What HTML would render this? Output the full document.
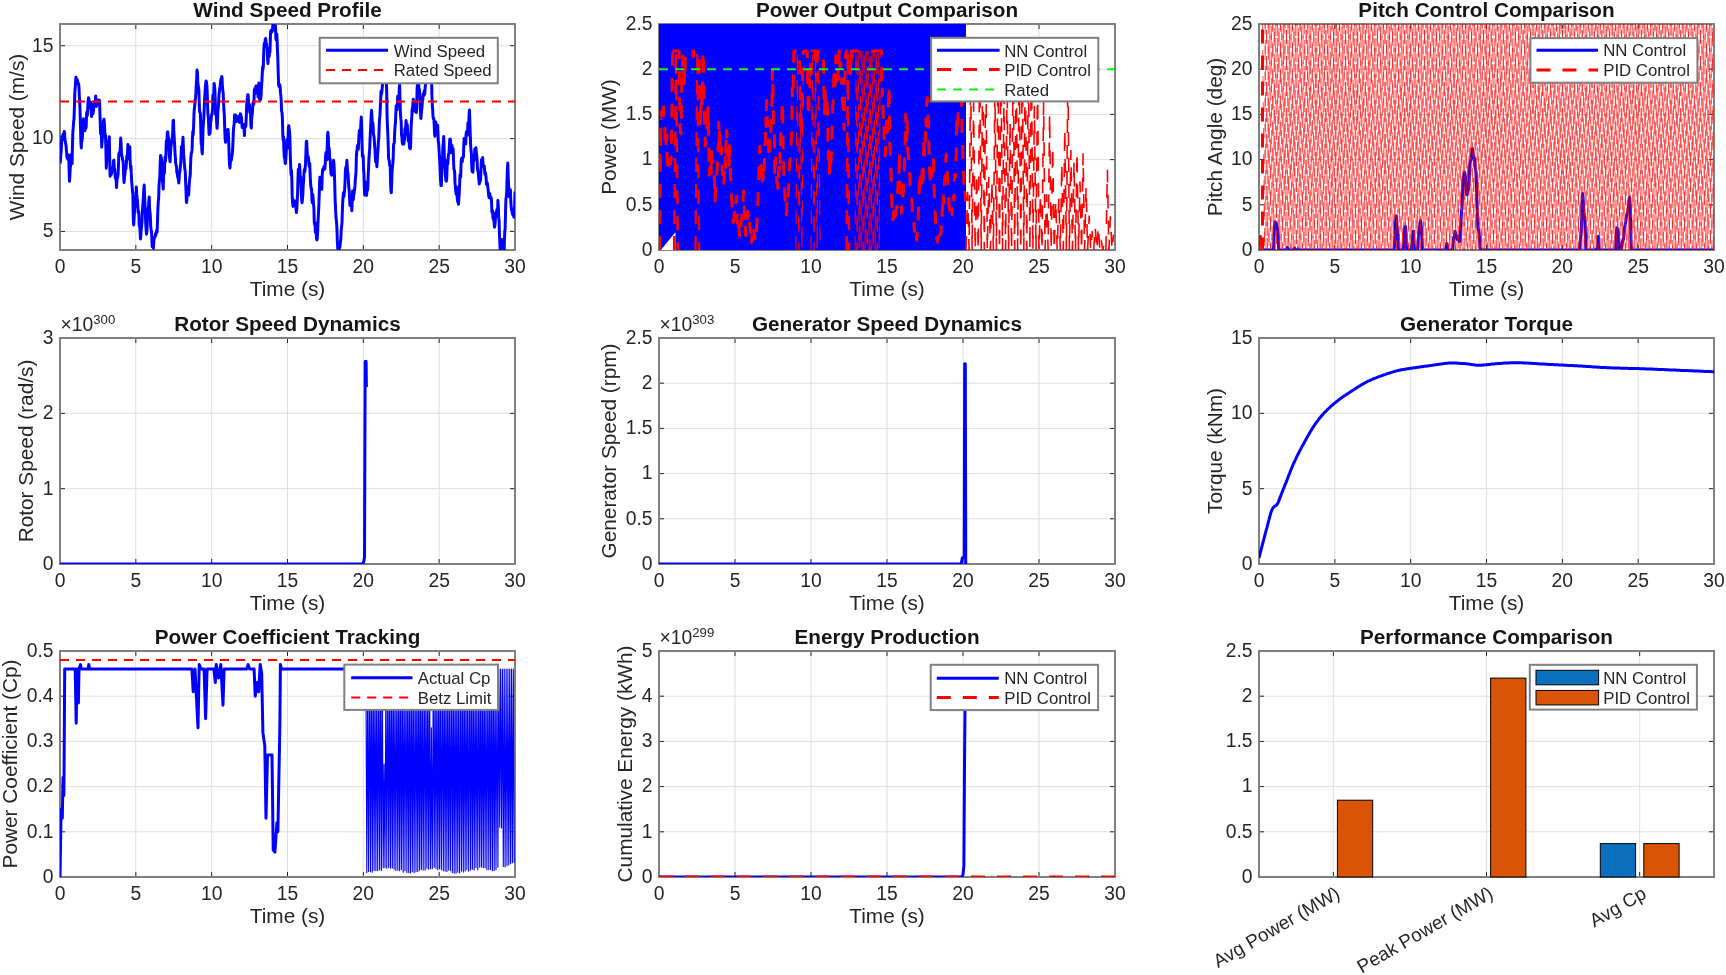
<!DOCTYPE html>
<html><head><meta charset="utf-8"><style>
html,body{margin:0;padding:0;background:#fff;width:1726px;height:975px;overflow:hidden}
svg{display:block;will-change:transform;font-family:"Liberation Sans", sans-serif;fill:#262626}
text{fill:#262626}
</style></head><body>
<svg width="1726" height="975" viewBox="0 0 1726 975">
<defs><clipPath id="clip00"><rect x="60.00" y="24.00" width="455.00" height="226.00"/></clipPath></defs>
<path d="M135.8 24.0V250.0M211.7 24.0V250.0M287.5 24.0V250.0M363.3 24.0V250.0M439.2 24.0V250.0M60.0 231.4H515.0M60.0 138.6H515.0M60.0 45.7H515.0" stroke="#dfdfdf" stroke-width="1" fill="none"/>
<path d="M135.83 250.0V245.0M135.83 24.0V29.0M211.67 250.0V245.0M211.67 24.0V29.0M287.50 250.0V245.0M287.50 24.0V29.0M363.33 250.0V245.0M363.33 24.0V29.0M439.17 250.0V245.0M439.17 24.0V29.0M60.0 231.43H65.0M515.0 231.43H510.0M60.0 138.58H65.0M515.0 138.58H510.0M60.0 45.73H65.0M515.0 45.73H510.0" stroke="#262626" stroke-width="1" fill="none"/>
<rect x="60.00" y="24.00" width="455.00" height="226.00" fill="none" stroke="#808080" stroke-width="2"/>
<path clip-path="url(#clip00)" d="M60.0 163.5L60.4 161.1L60.8 153.6L61.1 153.0L61.5 143.6L61.9 136.6L62.3 140.0L62.7 138.3L63.0 134.1L63.4 133.8L63.8 133.6L64.2 131.5L64.6 132.7L64.9 139.1L65.3 142.2L65.7 143.8L66.1 146.1L66.5 151.7L66.8 156.3L67.2 158.2L67.6 157.5L68.0 159.5L68.3 157.3L68.7 155.0L69.1 170.0L69.5 181.3L69.9 175.0L70.2 168.6L70.6 165.8L71.0 162.2L71.4 154.5L71.8 157.2L72.1 163.6L72.5 144.1L72.9 131.4L73.3 126.6L73.7 121.1L74.0 119.3L74.4 107.8L74.8 92.8L75.2 88.0L75.6 81.3L75.9 77.2L76.3 79.6L76.7 81.1L77.1 79.2L77.5 80.2L77.8 83.6L78.2 84.3L78.6 83.5L79.0 88.2L79.4 97.6L79.7 100.5L80.1 113.4L80.5 126.8L80.9 142.6L81.3 147.9L81.6 139.3L82.0 141.1L82.4 136.8L82.8 127.3L83.1 120.2L83.5 118.8L83.9 126.6L84.3 126.2L84.7 127.5L85.0 130.7L85.4 125.7L85.8 128.4L86.2 126.6L86.6 113.8L86.9 112.1L87.3 115.3L87.7 108.5L88.1 101.6L88.5 97.7L88.8 98.3L89.2 107.1L89.6 107.3L90.0 105.0L90.4 103.2L90.7 102.2L91.1 111.0L91.5 116.6L91.9 109.5L92.3 104.4L92.6 110.4L93.0 113.7L93.4 111.0L93.8 107.1L94.2 103.4L94.5 101.8L94.9 102.6L95.3 101.9L95.7 95.9L96.1 102.0L96.4 106.5L96.8 99.7L97.2 104.5L97.6 104.1L97.9 102.2L98.3 101.1L98.7 100.0L99.1 101.2L99.5 100.3L99.8 107.8L100.2 121.1L100.6 133.8L101.0 131.8L101.4 133.8L101.7 147.2L102.1 141.6L102.5 135.2L102.9 128.1L103.3 122.6L103.6 120.5L104.0 119.2L104.4 124.1L104.8 131.5L105.2 137.3L105.5 135.4L105.9 148.9L106.3 168.2L106.7 161.0L107.1 141.7L107.4 144.0L107.8 153.3L108.2 145.1L108.6 140.7L109.0 141.3L109.3 136.7L109.7 158.8L110.1 176.2L110.5 175.2L110.9 172.7L111.2 174.5L111.6 173.2L112.0 171.7L112.4 168.8L112.7 167.6L113.1 169.3L113.5 160.6L113.9 160.1L114.3 167.9L114.6 168.9L115.0 173.0L115.4 178.3L115.8 178.4L116.2 179.6L116.5 187.6L116.9 181.9L117.3 175.6L117.7 177.3L118.1 173.8L118.4 167.2L118.8 154.5L119.2 152.6L119.6 152.9L120.0 151.6L120.3 147.6L120.7 138.1L121.1 143.5L121.5 153.2L121.9 156.3L122.2 156.6L122.6 159.9L123.0 160.4L123.4 166.5L123.8 179.5L124.1 182.5L124.5 177.5L124.9 173.5L125.3 170.0L125.7 166.5L126.0 168.6L126.4 163.2L126.8 156.3L127.2 159.5L127.5 152.3L127.9 144.6L128.3 146.7L128.7 152.0L129.1 158.3L129.4 151.1L129.8 146.8L130.2 161.5L130.6 168.5L131.0 166.1L131.3 173.9L131.7 181.7L132.1 186.3L132.5 191.0L132.9 194.5L133.2 215.4L133.6 224.9L134.0 218.9L134.4 213.1L134.8 204.9L135.1 204.4L135.5 206.1L135.9 199.5L136.3 187.1L136.7 194.2L137.0 197.2L137.4 200.3L137.8 206.1L138.2 212.7L138.6 211.1L138.9 214.7L139.3 226.3L139.7 226.1L140.1 231.9L140.5 238.9L140.8 235.4L141.2 229.6L141.6 226.2L142.0 221.8L142.3 213.2L142.7 207.4L143.1 201.2L143.5 195.6L143.9 187.9L144.2 185.1L144.6 196.0L145.0 205.2L145.4 214.5L145.8 224.5L146.1 229.2L146.5 234.2L146.9 232.3L147.3 221.4L147.7 211.6L148.0 208.1L148.4 210.0L148.8 201.3L149.2 196.9L149.6 208.3L149.9 212.0L150.3 215.1L150.7 226.7L151.1 229.5L151.5 231.8L151.8 236.8L152.2 246.8L152.6 243.0L153.0 238.6L153.4 248.3L153.7 243.1L154.1 238.1L154.5 237.8L154.9 236.6L155.3 236.6L155.6 233.5L156.0 234.5L156.4 231.9L156.8 229.8L157.1 232.1L157.5 221.8L157.9 209.0L158.3 201.5L158.7 197.2L159.0 186.0L159.4 180.4L159.8 177.2L160.2 162.8L160.6 155.4L160.9 156.0L161.3 158.0L161.7 161.4L162.1 170.4L162.5 181.5L162.8 183.6L163.2 189.1L163.6 175.6L164.0 165.4L164.4 173.3L164.7 163.8L165.1 157.0L165.5 161.1L165.9 154.5L166.3 141.4L166.6 140.4L167.0 139.6L167.4 132.1L167.8 131.8L168.2 136.6L168.5 137.6L168.9 145.9L169.3 155.7L169.7 158.9L170.1 161.8L170.4 155.4L170.8 148.2L171.2 145.1L171.6 141.3L171.9 139.1L172.3 138.3L172.7 133.1L173.1 120.9L173.5 120.3L173.8 131.2L174.2 137.7L174.6 144.3L175.0 153.0L175.4 158.0L175.7 163.6L176.1 165.2L176.5 166.7L176.9 172.8L177.3 172.2L177.6 176.7L178.0 177.6L178.4 179.5L178.8 182.9L179.2 178.2L179.5 172.0L179.9 171.5L180.3 167.3L180.7 164.3L181.1 155.7L181.4 146.7L181.8 149.4L182.2 148.2L182.6 143.5L183.0 137.3L183.3 145.3L183.7 154.9L184.1 159.3L184.5 165.3L184.8 168.9L185.2 170.8L185.6 181.1L186.0 190.5L186.4 202.2L186.7 202.4L187.1 195.8L187.5 194.0L187.9 186.4L188.3 193.1L188.6 195.1L189.0 188.2L189.4 182.0L189.8 177.7L190.2 176.2L190.5 166.2L190.9 157.5L191.3 152.9L191.7 152.4L192.1 149.4L192.4 138.9L192.8 131.7L193.2 134.7L193.6 126.6L194.0 114.4L194.3 108.9L194.7 106.0L195.1 100.7L195.5 97.7L195.9 93.2L196.2 86.0L196.6 80.3L197.0 70.0L197.4 72.6L197.8 81.9L198.1 85.3L198.5 87.2L198.9 90.9L199.3 104.6L199.6 111.6L200.0 112.2L200.4 113.8L200.8 128.6L201.2 144.2L201.5 141.4L201.9 151.0L202.3 153.7L202.7 140.8L203.1 126.8L203.4 123.8L203.8 118.6L204.2 109.2L204.6 99.2L205.0 92.8L205.3 87.7L205.7 83.9L206.1 80.9L206.5 82.3L206.9 86.3L207.2 92.3L207.6 106.7L208.0 114.7L208.4 118.0L208.8 128.8L209.1 134.5L209.5 131.9L209.9 133.7L210.3 129.5L210.7 120.3L211.0 120.9L211.4 116.2L211.8 113.9L212.2 114.2L212.6 107.4L212.9 95.2L213.3 94.9L213.7 95.7L214.1 83.5L214.4 84.9L214.8 89.0L215.2 98.4L215.6 114.5L216.0 113.6L216.3 115.0L216.7 123.4L217.1 128.3L217.5 122.6L217.9 109.8L218.2 109.3L218.6 103.0L219.0 94.1L219.4 91.3L219.8 87.7L220.1 86.2L220.5 82.7L220.9 79.2L221.3 80.6L221.7 76.6L222.0 77.1L222.4 86.5L222.8 90.2L223.2 93.4L223.6 103.5L223.9 109.7L224.3 114.6L224.7 128.0L225.1 137.8L225.5 142.3L225.8 137.1L226.2 139.4L226.6 140.0L227.0 135.0L227.4 130.3L227.7 129.4L228.1 129.4L228.5 136.9L228.9 146.9L229.2 157.8L229.6 165.5L230.0 168.0L230.4 161.6L230.8 157.2L231.1 160.7L231.5 159.2L231.9 155.6L232.3 153.9L232.7 148.6L233.0 141.1L233.4 130.3L233.8 126.4L234.2 123.7L234.6 115.1L234.9 118.4L235.3 118.1L235.7 115.1L236.1 120.9L236.5 121.5L236.8 119.2L237.2 119.9L237.6 120.2L238.0 118.7L238.4 116.4L238.7 119.4L239.1 120.5L239.5 122.3L239.9 121.1L240.3 113.8L240.6 113.9L241.0 116.2L241.4 117.2L241.8 122.6L242.2 127.6L242.5 126.1L242.9 124.4L243.3 127.1L243.7 124.4L244.0 128.3L244.4 135.6L244.8 126.2L245.2 125.0L245.6 126.8L245.9 125.3L246.3 117.1L246.7 104.7L247.1 99.4L247.5 97.5L247.8 94.7L248.2 95.0L248.6 103.9L249.0 108.1L249.4 104.2L249.7 112.5L250.1 108.7L250.5 111.9L250.9 125.6L251.3 128.1L251.6 119.9L252.0 115.2L252.4 112.9L252.8 104.5L253.2 102.1L253.5 104.6L253.9 103.8L254.3 90.4L254.7 88.9L255.1 93.5L255.4 90.7L255.8 86.3L256.2 85.9L256.6 87.0L257.0 92.2L257.3 92.4L257.7 88.0L258.1 97.1L258.5 94.9L258.8 83.1L259.2 91.5L259.6 99.7L260.0 90.7L260.4 92.0L260.7 99.4L261.1 95.2L261.5 86.9L261.9 80.9L262.3 73.5L262.6 67.1L263.0 69.5L263.4 64.7L263.8 50.5L264.2 44.4L264.5 43.2L264.9 42.9L265.3 38.9L265.7 38.4L266.1 42.9L266.4 43.8L266.8 46.3L267.2 48.2L267.6 59.1L268.0 63.5L268.3 53.0L268.7 54.0L269.1 56.7L269.5 52.5L269.9 52.5L270.2 43.9L270.6 32.2L271.0 30.4L271.4 31.5L271.8 32.0L272.1 29.6L272.5 29.5L272.9 25.1L273.3 18.6L273.6 19.7L274.0 26.1L274.4 30.1L274.8 30.1L275.2 25.8L275.5 25.8L275.9 39.0L276.3 39.9L276.7 33.8L277.1 39.1L277.4 48.6L277.8 56.9L278.2 72.3L278.6 84.4L279.0 86.4L279.3 85.2L279.7 84.5L280.1 86.3L280.5 92.7L280.9 96.2L281.2 100.8L281.6 111.1L282.0 112.4L282.4 118.1L282.8 134.6L283.1 140.1L283.5 136.8L283.9 149.7L284.3 157.5L284.7 154.9L285.0 162.2L285.4 163.6L285.8 158.1L286.2 152.8L286.6 144.9L286.9 139.5L287.3 146.4L287.7 148.1L288.1 138.4L288.4 127.1L288.8 125.8L289.2 129.6L289.6 132.2L290.0 140.7L290.3 155.1L290.7 166.9L291.1 175.0L291.5 170.6L291.9 181.0L292.2 195.4L292.6 202.7L293.0 206.4L293.4 199.9L293.8 202.2L294.1 203.7L294.5 201.6L294.9 203.5L295.3 201.3L295.7 201.2L296.0 208.8L296.4 212.6L296.8 209.3L297.2 200.5L297.6 193.7L297.9 181.4L298.3 169.3L298.7 173.8L299.1 175.8L299.5 164.6L299.8 166.0L300.2 179.4L300.6 176.5L301.0 184.4L301.4 195.5L301.7 200.0L302.1 202.7L302.5 198.4L302.9 193.2L303.2 185.6L303.6 180.7L304.0 173.0L304.4 169.4L304.8 171.6L305.1 168.9L305.5 163.4L305.9 153.4L306.3 141.4L306.7 141.2L307.0 148.6L307.4 154.7L307.8 156.6L308.2 156.5L308.6 158.7L308.9 164.1L309.3 166.8L309.7 163.2L310.1 173.2L310.5 181.8L310.8 186.0L311.2 189.1L311.6 189.1L312.0 200.9L312.4 202.6L312.7 194.4L313.1 198.2L313.5 204.0L313.9 208.2L314.3 222.7L314.6 224.5L315.0 222.5L315.4 232.5L315.8 232.2L316.2 230.2L316.5 238.1L316.9 239.9L317.3 237.9L317.7 230.4L318.0 222.3L318.4 214.4L318.8 206.7L319.2 195.3L319.6 182.7L319.9 177.2L320.3 179.6L320.7 184.6L321.1 178.0L321.5 184.3L321.8 189.3L322.2 175.9L322.6 169.7L323.0 168.7L323.4 170.1L323.7 168.5L324.1 166.4L324.5 169.3L324.9 168.9L325.3 162.8L325.6 155.7L326.0 152.5L326.4 158.8L326.8 159.8L327.2 146.5L327.5 135.6L327.9 132.3L328.3 136.9L328.7 150.0L329.1 148.0L329.4 151.5L329.8 160.0L330.2 158.8L330.6 167.7L331.0 174.0L331.3 173.9L331.7 175.2L332.1 174.2L332.5 169.9L332.8 168.4L333.2 164.7L333.6 160.3L334.0 164.0L334.4 173.3L334.7 183.5L335.1 198.7L335.5 207.0L335.9 216.2L336.3 219.9L336.6 222.6L337.0 230.5L337.4 242.5L337.8 248.7L338.2 249.6L338.5 253.3L338.9 249.1L339.3 243.7L339.7 247.8L340.1 245.0L340.4 241.9L340.8 239.3L341.2 230.5L341.6 226.5L342.0 222.8L342.3 212.8L342.7 202.3L343.1 196.4L343.5 192.7L343.9 196.6L344.2 194.1L344.6 189.7L345.0 182.8L345.4 170.9L345.8 167.2L346.1 169.0L346.5 167.1L346.9 160.3L347.3 167.5L347.6 172.9L348.0 172.8L348.4 180.3L348.8 187.5L349.2 190.4L349.5 196.9L349.9 205.4L350.3 205.4L350.7 205.5L351.1 200.2L351.4 201.8L351.8 210.7L352.2 202.2L352.6 191.0L353.0 194.1L353.3 199.7L353.7 195.1L354.1 193.6L354.5 189.9L354.9 186.7L355.2 181.7L355.6 176.9L356.0 172.2L356.4 155.7L356.8 151.2L357.1 149.0L357.5 145.6L357.9 148.6L358.3 149.3L358.7 141.0L359.0 134.3L359.4 130.4L359.8 132.0L360.2 136.0L360.6 129.9L360.9 122.5L361.3 117.1L361.7 130.3L362.1 146.4L362.4 156.4L362.8 154.9L363.2 156.1L363.6 169.0L364.0 175.4L364.3 187.1L364.7 195.1L365.1 186.3L365.5 182.0L365.9 187.1L366.2 194.2L366.6 195.4L367.0 188.9L367.4 190.4L367.8 188.3L368.1 177.9L368.5 169.0L368.9 159.7L369.3 153.6L369.7 148.7L370.0 140.5L370.4 131.8L370.8 124.4L371.2 114.8L371.6 110.3L371.9 116.1L372.3 123.5L372.7 122.3L373.1 126.1L373.5 134.6L373.8 135.4L374.2 138.1L374.6 145.0L375.0 149.6L375.4 158.3L375.7 161.9L376.1 158.0L376.5 162.0L376.9 166.7L377.2 162.0L377.6 154.2L378.0 150.2L378.4 141.2L378.8 138.7L379.1 129.1L379.5 119.8L379.9 115.9L380.3 107.6L380.7 99.6L381.0 91.6L381.4 94.5L381.8 92.1L382.2 88.0L382.6 83.4L382.9 67.9L383.3 57.3L383.7 50.5L384.1 59.7L384.5 67.9L384.8 71.4L385.2 73.3L385.6 73.5L386.0 83.8L386.4 81.7L386.7 92.0L387.1 117.5L387.5 127.5L387.9 135.8L388.3 147.9L388.6 158.8L389.0 160.0L389.4 161.8L389.8 165.8L390.2 165.6L390.5 178.9L390.9 190.7L391.3 192.7L391.7 182.7L392.0 173.2L392.4 167.1L392.8 163.9L393.2 157.4L393.6 144.1L393.9 143.8L394.3 143.0L394.7 131.8L395.1 125.6L395.5 122.1L395.8 113.2L396.2 105.7L396.6 105.9L397.0 109.8L397.4 102.5L397.7 96.2L398.1 102.6L398.5 102.1L398.9 99.1L399.3 88.4L399.6 84.8L400.0 98.6L400.4 113.3L400.8 118.2L401.2 121.8L401.5 134.9L401.9 136.6L402.3 142.8L402.7 144.1L403.1 135.6L403.4 142.0L403.8 144.1L404.2 141.3L404.6 139.0L404.9 128.8L405.3 131.0L405.7 126.0L406.1 120.5L406.5 128.1L406.8 127.4L407.2 124.4L407.6 131.8L408.0 137.8L408.4 141.2L408.7 140.6L409.1 139.1L409.5 147.7L409.9 148.3L410.3 148.7L410.6 146.6L411.0 129.7L411.4 122.1L411.8 116.9L412.2 109.1L412.5 109.1L412.9 103.8L413.3 99.2L413.7 101.0L414.1 105.2L414.4 107.8L414.8 111.2L415.2 109.6L415.6 104.9L416.0 104.1L416.3 112.6L416.7 108.1L417.1 89.2L417.5 83.3L417.9 86.1L418.2 82.2L418.6 84.3L419.0 88.0L419.4 90.1L419.7 93.0L420.1 99.6L420.5 112.7L420.9 118.5L421.3 114.0L421.6 110.6L422.0 107.0L422.4 100.4L422.8 99.9L423.2 93.9L423.5 94.7L423.9 95.3L424.3 91.1L424.7 94.2L425.1 88.2L425.4 85.2L425.8 81.8L426.2 81.1L426.6 81.2L427.0 77.7L427.3 76.0L427.7 72.4L428.1 74.4L428.5 70.3L428.9 69.8L429.2 74.3L429.6 66.5L430.0 59.4L430.4 59.3L430.8 60.5L431.1 59.1L431.5 74.7L431.9 95.0L432.3 104.8L432.7 109.9L433.0 116.2L433.4 118.9L433.8 118.4L434.2 124.5L434.5 132.0L434.9 136.3L435.3 128.1L435.7 122.0L436.1 125.4L436.4 127.8L436.8 128.5L437.2 126.6L437.6 125.2L438.0 134.4L438.3 141.9L438.7 143.6L439.1 150.8L439.5 157.2L439.9 163.7L440.2 172.7L440.6 181.2L441.0 185.6L441.4 185.5L441.8 165.3L442.1 159.4L442.5 159.6L442.9 147.1L443.3 142.8L443.7 136.5L444.0 143.6L444.4 159.7L444.8 167.0L445.2 173.7L445.6 177.0L445.9 180.2L446.3 181.2L446.7 179.1L447.1 167.5L447.5 160.0L447.8 163.9L448.2 157.7L448.6 153.9L449.0 153.0L449.3 147.5L449.7 139.5L450.1 139.0L450.5 140.3L450.9 145.8L451.2 152.8L451.6 145.8L452.0 145.5L452.4 151.9L452.8 150.1L453.1 148.6L453.5 159.2L453.9 169.1L454.3 169.9L454.7 173.1L455.0 183.3L455.4 186.4L455.8 191.8L456.2 194.2L456.6 186.9L456.9 189.7L457.3 199.1L457.7 201.7L458.1 202.0L458.5 204.2L458.8 199.7L459.2 193.6L459.6 185.0L460.0 174.7L460.4 177.2L460.7 176.7L461.1 162.9L461.5 158.6L461.9 158.0L462.3 161.7L462.6 158.3L463.0 156.7L463.4 157.3L463.8 145.9L464.1 138.5L464.5 139.4L464.9 140.8L465.3 142.0L465.7 143.9L466.0 135.7L466.4 131.7L466.8 133.4L467.2 135.5L467.6 132.1L467.9 123.0L468.3 123.6L468.7 124.8L469.1 114.7L469.5 110.0L469.8 119.6L470.2 133.4L470.6 144.1L471.0 150.8L471.4 153.9L471.7 164.7L472.1 171.5L472.5 168.9L472.9 172.2L473.3 162.8L473.6 158.8L474.0 160.6L474.4 156.6L474.8 148.9L475.2 150.4L475.5 149.0L475.9 147.7L476.3 152.9L476.7 154.8L477.1 159.9L477.4 168.2L477.8 170.8L478.2 171.9L478.6 177.4L478.9 179.5L479.3 184.0L479.7 181.9L480.1 178.9L480.5 180.8L480.8 174.0L481.2 164.0L481.6 159.4L482.0 164.6L482.4 160.4L482.7 157.6L483.1 166.5L483.5 166.4L483.9 165.7L484.3 166.1L484.6 170.3L485.0 174.3L485.4 172.5L485.8 175.0L486.2 179.2L486.5 184.5L486.9 183.5L487.3 182.9L487.7 186.0L488.1 189.3L488.4 192.5L488.8 196.4L489.2 197.8L489.6 193.6L490.0 195.2L490.3 196.5L490.7 197.5L491.1 197.5L491.5 200.8L491.9 212.2L492.2 212.3L492.6 210.7L493.0 218.5L493.4 219.0L493.7 218.2L494.1 222.1L494.5 227.2L494.9 225.5L495.3 220.7L495.6 212.8L496.0 213.0L496.4 216.0L496.8 209.7L497.2 212.5L497.5 216.0L497.9 200.6L498.3 205.5L498.7 217.4L499.1 221.1L499.4 232.1L499.8 242.5L500.2 249.6L500.6 245.0L501.0 247.2L501.3 248.4L501.7 243.5L502.1 239.5L502.5 242.7L502.9 245.7L503.2 241.9L503.6 247.5L504.0 254.8L504.4 240.5L504.8 231.1L505.1 229.0L505.5 213.2L505.9 199.6L506.3 196.7L506.7 192.0L507.0 181.6L507.4 169.1L507.8 163.1L508.2 176.0L508.5 184.2L508.9 190.7L509.3 196.7L509.7 194.1L510.1 190.8L510.4 189.7L510.8 201.7L511.2 207.0L511.6 209.9L512.0 211.0L512.3 212.9L512.7 214.8L513.1 212.6L513.5 215.8L513.9 217.1L514.2 217.0L514.6 207.8L515.0 191.5" stroke="#0000ff" stroke-width="3.00" stroke-dasharray="none" fill="none" stroke-linejoin="round" />
<path clip-path="url(#clip00)" d="M60.0 101.4L515.0 101.4" stroke="#ff0000" stroke-width="2.00" stroke-dasharray="9 7" fill="none" stroke-linejoin="round" />
<rect x="319.7" y="37.8" width="178.1" height="45.5" fill="#fff" stroke="#808080" stroke-width="2"/>
<path d="M326.0 50.3H388.0" stroke="#0000ff" stroke-width="3.0" stroke-dasharray="none" fill="none"/>
<text x="393.7" y="56.5" font-size="16.80">Wind Speed</text>
<path d="M326.0 70.0H388.0" stroke="#ff0000" stroke-width="2.0" stroke-dasharray="9 7" fill="none"/>
<text x="393.7" y="76.2" font-size="16.80">Rated Speed</text>
<text x="60.0" y="273.3" text-anchor="middle" font-size="19.30">0</text>
<text x="135.8" y="273.3" text-anchor="middle" font-size="19.30">5</text>
<text x="211.7" y="273.3" text-anchor="middle" font-size="19.30">10</text>
<text x="287.5" y="273.3" text-anchor="middle" font-size="19.30">15</text>
<text x="363.3" y="273.3" text-anchor="middle" font-size="19.30">20</text>
<text x="439.2" y="273.3" text-anchor="middle" font-size="19.30">25</text>
<text x="515.0" y="273.3" text-anchor="middle" font-size="19.30">30</text>
<text x="53.5" y="237.2" text-anchor="end" font-size="19.30">5</text>
<text x="53.5" y="144.4" text-anchor="end" font-size="19.30">10</text>
<text x="53.5" y="51.5" text-anchor="end" font-size="19.30">15</text>
<text x="287.5" y="296.2" text-anchor="middle" font-size="20.80">Time (s)</text>
<text transform="translate(23.9 137.0) rotate(-90)" text-anchor="middle" font-size="20.80">Wind Speed (m/s)</text>
<text x="287.5" y="16.8" text-anchor="middle" font-size="20.70" font-weight="bold" style="fill:#151515">Wind Speed Profile</text>
<defs><clipPath id="clip01"><rect x="659.00" y="24.00" width="456.00" height="226.00"/></clipPath></defs>
<path d="M735.0 24.0V250.0M811.0 24.0V250.0M887.0 24.0V250.0M963.0 24.0V250.0M1039.0 24.0V250.0M659.0 204.8H1115.0M659.0 159.6H1115.0M659.0 114.4H1115.0M659.0 69.2H1115.0" stroke="#dfdfdf" stroke-width="1" fill="none"/>
<path d="M735.00 250.0V245.0M735.00 24.0V29.0M811.00 250.0V245.0M811.00 24.0V29.0M887.00 250.0V245.0M887.00 24.0V29.0M963.00 250.0V245.0M963.00 24.0V29.0M1039.00 250.0V245.0M1039.00 24.0V29.0M659.0 204.80H664.0M1115.0 204.80H1110.0M659.0 159.60H664.0M1115.0 159.60H1110.0M659.0 114.40H664.0M1115.0 114.40H1110.0M659.0 69.20H664.0M1115.0 69.20H1110.0" stroke="#262626" stroke-width="1" fill="none"/>
<rect x="659.00" y="24.00" width="456.00" height="226.00" fill="none" stroke="#808080" stroke-width="2"/>
<path clip-path="url(#clip01)" d="M659.0 24.0H966.0V250.0H659.0Z" fill="#0000ff"/>
<path d="M660.8 250L675.5 232.3V250Z" fill="#fff"/>
<path clip-path="url(#clip01)" d="M659.0 166.1L659.5 166.7L659.9 144.8L660.4 141.3L660.8 130.9L661.3 111.5L661.7 116.4L662.2 114.6L662.6 103.1L663.1 109.2L663.6 106.8L664.0 115.1L664.5 114.9L664.9 130.3L665.4 149.0L665.8 145.7L666.3 141.8L666.8 135.3L667.2 164.4L667.7 156.9L668.1 165.3L668.6 160.9L669.0 165.2L669.5 154.2L669.9 158.6L670.4 163.7L670.9 160.6L671.3 144.2L671.8 122.2L672.2 74.1L672.7 53.0L673.1 58.8L673.6 51.1L674.0 51.1L674.5 51.1L675.0 51.1L675.4 51.1L675.9 51.1L676.3 51.1L676.8 51.1L677.2 51.1L677.7 51.1L678.2 51.1L678.6 51.1L679.1 51.1L679.5 85.6L680.0 127.4L680.4 130.5L680.9 134.0L681.3 115.6L681.8 79.3L682.3 78.9L682.7 55.9L683.2 58.2L683.6 88.1L684.1 90.8L684.5 65.9L685.0 72.0L685.4 51.1L685.9 51.1L686.4 51.1L686.8 51.1L687.3 51.1L687.7 51.1L688.2 51.1L688.6 51.1L689.1 51.1L689.6 51.1L690.0 51.1L690.5 51.1L690.9 51.1L691.4 51.1L691.8 51.1L692.3 51.1L692.7 51.1L693.2 56.7L693.7 51.1L694.1 51.1L694.6 51.1L695.0 51.1L695.5 51.1L695.9 51.1L696.4 51.1L696.8 51.1L697.3 51.1L697.8 51.1L698.2 51.1L698.7 51.1L699.1 51.1L699.6 85.8L700.0 97.3L700.5 126.4L701.0 106.4L701.4 103.2L701.9 90.1L702.3 106.0L702.8 59.4L703.2 51.1L703.7 71.5L704.1 95.7L704.6 121.2L705.1 139.8L705.5 145.9L706.0 141.1L706.4 135.4L706.9 133.3L707.3 105.8L707.8 126.7L708.2 107.4L708.7 138.8L709.2 175.2L709.6 169.1L710.1 167.0L710.5 167.2L711.0 178.9L711.4 149.4L711.9 158.3L712.4 159.5L712.8 161.1L713.3 169.3L713.7 169.2L714.2 175.2L714.6 184.5L715.1 201.3L715.5 191.5L716.0 185.3L716.5 177.5L716.9 174.3L717.4 161.4L717.8 147.5L718.3 150.4L718.7 122.6L719.2 143.4L719.6 126.6L720.1 134.5L720.6 157.8L721.0 155.8L721.5 147.2L721.9 157.1L722.4 174.4L722.8 171.5L723.3 184.8L723.8 184.1L724.2 173.6L724.7 170.2L725.1 157.3L725.6 167.8L726.0 140.9L726.5 146.2L726.9 130.6L727.4 155.0L727.9 149.3L728.3 148.6L728.8 145.1L729.2 165.4L729.7 145.7L730.1 158.8L730.6 177.3L731.0 179.7L731.5 198.8L732.0 204.1L732.4 208.6L732.9 220.0L733.3 222.5L733.8 219.9L734.2 213.5L734.7 212.1L735.2 214.3L735.6 211.0L736.1 201.7L736.5 195.9L737.0 223.2L737.4 215.0L737.9 223.1L738.3 223.7L738.8 227.3L739.3 232.9L739.7 238.1L740.2 235.9L740.6 233.7L741.1 219.8L741.5 220.0L742.0 215.8L742.4 208.6L742.9 207.0L743.4 190.9L743.8 196.9L744.3 208.3L744.7 226.8L745.2 224.0L745.6 235.8L746.1 234.9L746.6 229.0L747.0 223.2L747.5 213.5L747.9 211.3L748.4 215.1L748.8 215.7L749.3 212.3L749.7 227.2L750.2 227.9L750.7 232.9L751.1 229.6L751.6 242.4L752.0 236.3L752.5 240.4L752.9 238.6L753.4 236.9L753.8 227.6L754.3 237.0L754.8 238.7L755.2 230.4L755.7 235.1L756.1 232.9L756.6 227.9L757.0 220.1L757.5 212.3L758.0 199.6L758.4 186.4L758.9 168.6L759.3 161.8L759.8 146.6L760.2 152.0L760.7 151.6L761.1 168.9L761.6 175.9L762.1 186.3L762.5 177.4L763.0 179.5L763.4 167.7L763.9 173.3L764.3 164.1L764.8 148.7L765.2 146.6L765.7 118.3L766.2 126.7L766.6 100.5L767.1 122.7L767.5 121.2L768.0 125.4L768.4 135.9L768.9 158.9L769.4 153.4L769.8 137.5L770.3 131.4L770.7 134.3L771.2 124.3L771.6 120.5L772.1 90.7L772.5 69.4L773.0 91.9L773.5 123.1L773.9 122.2L774.4 134.4L774.8 175.9L775.3 168.5L775.7 158.0L776.2 172.7L776.6 178.9L777.1 184.0L777.6 183.9L778.0 190.0L778.5 183.2L778.9 167.8L779.4 168.5L779.8 153.5L780.3 162.6L780.8 131.7L781.2 121.2L781.7 119.2L782.1 107.7L782.6 101.9L783.0 146.1L783.5 159.9L783.9 175.0L784.4 183.0L784.9 197.5L785.3 201.8L785.8 213.8L786.2 214.6L786.7 212.5L787.1 196.0L787.6 199.7L788.0 197.3L788.5 189.8L789.0 182.4L789.4 167.8L789.9 159.4L790.3 158.2L790.8 149.6L791.2 140.7L791.7 130.3L792.2 88.3L792.6 98.8L793.1 95.6L793.5 65.4L794.0 51.1L794.4 51.1L794.9 51.1L795.3 51.1L795.8 51.1L796.3 51.1L796.7 51.1L797.2 51.1L797.6 51.1L798.1 51.1L798.5 51.1L799.0 51.1L799.4 51.1L799.9 78.0L800.4 92.7L800.8 125.8L801.3 135.5L801.7 117.4L802.2 111.5L802.6 78.3L803.1 52.7L803.6 51.1L804.0 51.1L804.5 51.1L804.9 51.1L805.4 51.1L805.8 51.1L806.3 51.1L806.7 51.1L807.2 51.8L807.7 77.3L808.1 106.5L808.6 116.6L809.0 102.5L809.5 79.7L809.9 88.6L810.4 73.5L810.8 51.1L811.3 51.1L811.8 51.1L812.2 51.1L812.7 51.1L813.1 51.1L813.6 51.1L814.0 51.1L814.5 51.1L815.0 51.1L815.4 51.1L815.9 68.2L816.3 70.7L816.8 80.8L817.2 58.6L817.7 51.1L818.1 51.1L818.6 51.1L819.1 51.1L819.5 51.1L820.0 51.1L820.4 51.1L820.9 51.1L821.3 51.1L821.8 51.1L822.2 51.1L822.7 51.1L823.2 51.1L823.6 74.9L824.1 105.2L824.5 113.6L825.0 89.7L825.4 108.5L825.9 114.9L826.4 95.9L826.8 94.9L827.3 107.2L827.7 119.9L828.2 158.7L828.6 149.1L829.1 154.7L829.5 179.1L830.0 172.8L830.5 153.2L830.9 163.0L831.4 154.1L831.8 146.1L832.3 124.8L832.7 108.0L833.2 101.3L833.6 81.5L834.1 71.9L834.6 73.3L835.0 86.1L835.5 77.2L835.9 55.6L836.4 81.2L836.8 69.5L837.3 70.6L837.8 66.7L838.2 76.7L838.7 79.0L839.1 51.1L839.6 51.1L840.0 68.4L840.5 65.0L840.9 63.3L841.4 82.9L841.9 78.7L842.3 99.6L842.8 103.3L843.2 106.7L843.7 116.8L844.1 129.8L844.6 91.0L845.0 73.2L845.5 54.5L846.0 57.0L846.4 51.1L846.9 51.1L847.3 51.1L847.8 51.1L848.2 51.1L848.7 51.1L849.2 51.1L849.6 51.1L850.1 64.7L850.5 75.9L851.0 70.4L851.4 51.1L851.9 60.7L852.3 51.1L852.8 51.1L853.3 51.1L853.7 51.1L854.2 51.1L854.6 51.1L855.1 51.1L855.5 51.1L856.0 51.1L856.4 51.1L856.9 51.1L857.4 51.1L857.8 51.1L858.3 51.1L858.7 51.1L859.2 51.1L859.6 51.1L860.1 51.1L860.6 51.1L861.0 51.1L861.5 51.1L861.9 51.1L862.4 51.1L862.8 51.1L863.3 51.1L863.7 51.1L864.2 51.1L864.7 51.1L865.1 51.1L865.6 51.1L866.0 51.1L866.5 51.1L866.9 51.1L867.4 51.1L867.8 51.1L868.3 51.1L868.8 51.1L869.2 51.1L869.7 51.1L870.1 51.1L870.6 51.1L871.0 51.1L871.5 51.1L872.0 51.1L872.4 51.1L872.9 51.1L873.3 51.1L873.8 51.1L874.2 51.1L874.7 51.1L875.1 51.1L875.6 51.1L876.1 51.1L876.5 51.1L877.0 51.1L877.4 51.1L877.9 51.1L878.3 51.1L878.8 51.1L879.2 51.1L879.7 51.1L880.2 51.1L880.6 51.1L881.1 51.1L881.5 51.1L882.0 96.0L882.4 89.0L882.9 101.1L883.4 126.1L883.8 123.8L884.3 144.5L884.7 150.9L885.2 156.1L885.6 148.7L886.1 140.6L886.5 121.6L887.0 131.9L887.5 134.2L887.9 122.7L888.4 107.9L888.8 85.5L889.3 97.5L889.7 145.2L890.2 149.2L890.6 160.8L891.1 175.4L891.6 195.8L892.0 211.1L892.5 213.4L892.9 220.0L893.4 212.6L893.8 211.4L894.3 222.9L894.8 217.0L895.2 216.7L895.7 213.8L896.1 209.8L896.6 206.5L897.0 207.3L897.5 199.2L897.9 182.4L898.4 185.6L898.9 173.4L899.3 151.3L899.8 174.6L900.2 194.3L900.7 197.4L901.1 201.2L901.6 212.9L902.0 204.4L902.5 195.5L903.0 197.5L903.4 187.7L903.9 175.0L904.3 171.7L904.8 147.3L905.2 138.5L905.7 114.3L906.2 133.0L906.6 140.4L907.1 120.0L907.5 149.6L908.0 151.7L908.4 157.2L908.9 159.7L909.3 172.7L909.8 174.6L910.3 186.4L910.7 191.5L911.2 193.7L911.6 198.1L912.1 205.2L912.5 215.4L913.0 214.6L913.4 220.4L913.9 223.7L914.4 231.5L914.8 227.3L915.3 232.3L915.7 229.8L916.2 235.0L916.6 240.5L917.1 236.9L917.6 224.1L918.0 223.8L918.5 209.1L918.9 203.6L919.4 177.1L919.8 188.1L920.3 177.0L920.7 176.2L921.2 185.9L921.7 183.2L922.1 168.8L922.6 177.1L923.0 180.8L923.5 159.7L923.9 141.0L924.4 155.5L924.8 135.5L925.3 141.5L925.8 119.0L926.2 125.8L926.7 100.6L927.1 99.5L927.6 97.7L928.0 103.8L928.5 130.8L929.0 152.6L929.4 167.0L929.9 173.5L930.3 183.7L930.8 172.7L931.2 171.0L931.7 170.4L932.1 176.0L932.6 171.1L933.1 170.7L933.5 159.5L934.0 184.7L934.4 195.8L934.9 206.8L935.3 216.4L935.8 226.8L936.2 232.9L936.7 234.5L937.2 242.2L937.6 239.2L938.1 236.4L938.5 237.6L939.0 242.6L939.4 237.7L939.9 236.3L940.4 232.9L940.8 235.0L941.3 224.5L941.7 226.2L942.2 212.2L942.6 207.2L943.1 192.6L943.5 202.7L944.0 203.0L944.5 182.2L944.9 176.3L945.4 177.6L945.8 157.1L946.3 153.9L946.7 167.1L947.2 170.1L947.6 180.0L948.1 186.4L948.6 192.7L949.0 204.6L949.5 208.6L949.9 211.2L950.4 216.9L950.8 215.3L951.3 212.9L951.8 209.3L952.2 214.6L952.7 202.3L953.1 205.2L953.6 196.2L954.0 199.4L954.5 177.9L954.9 174.4L955.4 177.1L955.9 156.7L956.3 155.0L956.8 121.5L957.2 122.6L957.7 129.9L958.1 114.8L958.6 112.1L959.0 93.2L959.5 96.7L960.0 89.0L960.4 101.3L960.9 73.4L961.3 77.9L961.8 112.7L962.2 135.5L962.7 148.4L963.2 170.1L963.6 173.9L964.1 190.7L964.5 187.8L965.0 194.2L965.4 200.2L965.9 196.2" stroke="#ff0000" stroke-width="3.00" stroke-dasharray="14 12" fill="none" stroke-linejoin="round" />
<path clip-path="url(#clip01)" d="M659.9 250.0L661.0 118.4" stroke="#ff0000" stroke-width="2.60" stroke-dasharray="14 12" fill="none" stroke-linejoin="round" />
<path clip-path="url(#clip01)" d="M674.2 250.0L676.0 51.1L677.8 250.0" stroke="#ff0000" stroke-width="2.60" stroke-dasharray="14 12" fill="none" stroke-linejoin="round" />
<path clip-path="url(#clip01)" d="M695.5 250.0L697.3 51.1L699.1 250.0" stroke="#ff0000" stroke-width="2.20" stroke-dasharray="14 12" fill="none" stroke-linejoin="round" />
<path clip-path="url(#clip01)" d="M795.8 250.0L797.3 51.1L798.8 250.0L800.4 102.5L801.9 250.0L803.4 59.1" stroke="#ff0000" stroke-width="1.20" stroke-dasharray="14 12" fill="none" stroke-linejoin="round" />
<path clip-path="url(#clip01)" d="M811.0 250.0L812.5 51.1L814.0 250.0L815.6 51.1L817.1 250.0L818.6 51.1L820.1 250.0" stroke="#ff0000" stroke-width="1.20" stroke-dasharray="14 12" fill="none" stroke-linejoin="round" />
<path clip-path="url(#clip01)" d="M846.7 250.0L847.9 51.1L849.0 250.0" stroke="#ff0000" stroke-width="2.60" stroke-dasharray="14 12" fill="none" stroke-linejoin="round" />
<path clip-path="url(#clip01)" d="M855.1 250.0L856.1 51.1L857.1 250.0L858.1 51.1L859.1 250.0L860.1 51.1L861.1 250.0L862.1 51.1L863.1 250.0L864.1 51.1L865.1 250.0L866.1 51.1L867.1 250.0L868.1 51.1L869.1 250.0L870.1 51.1L871.1 250.0L872.1 51.1L873.1 250.0L874.1 51.1L875.1 250.0L876.1 51.1L877.2 250.0L878.2 51.1L879.2 250.0L880.2 51.1" stroke="#ff0000" stroke-width="1.00" stroke-dasharray="14 12" fill="none" stroke-linejoin="round" />
<path clip-path="url(#clip01)" d="M966.0 250.0L967.6 192.5L969.1 250.0L970.6 66.3L972.1 250.0L973.6 103.1L975.2 250.0L976.7 173.9L978.2 250.0L979.7 51.1L981.2 250.0L982.8 51.1L984.3 250.0L985.8 51.1L987.3 250.0L988.8 177.6L990.4 250.0L991.9 180.6L993.4 250.0L994.9 81.6L996.4 250.0L998.0 51.1L999.5 250.0L1001.0 51.1L1002.5 250.0L1004.0 93.1L1005.6 250.0L1007.1 83.2L1008.6 250.0L1010.1 121.7L1011.6 250.0L1013.2 51.1L1014.7 250.0L1016.2 51.1L1017.7 250.0L1019.2 51.1L1020.8 250.0L1022.3 51.1L1023.8 250.0L1025.3 51.1L1026.8 250.0L1028.4 51.1L1029.9 250.0L1031.4 51.1L1032.9 250.0L1034.4 106.5L1036.0 250.0L1037.5 86.3L1039.0 250.0L1040.5 195.0L1042.0 250.0L1043.6 102.6L1045.1 250.0L1046.6 194.8L1048.1 250.0L1049.6 114.4L1051.2 250.0L1052.7 146.9L1054.2 250.0L1055.7 200.6L1057.2 250.0L1058.8 198.3L1060.3 250.0L1061.8 163.6L1063.3 250.0L1064.8 129.0L1066.4 250.0L1067.9 67.6L1069.4 250.0L1070.9 150.6L1072.4 250.0L1074.0 161.7L1075.5 250.0L1077.0 151.9L1078.5 250.0L1080.0 182.0L1081.6 250.0L1083.1 153.8L1084.6 250.0L1086.1 187.0L1087.6 250.0L1089.2 216.0L1090.7 250.0L1092.2 231.6L1093.7 250.0L1095.2 226.9L1096.8 250.0L1098.3 226.6L1099.8 250.0L1101.3 240.3L1102.8 250.0L1104.4 242.1L1105.9 250.0L1107.4 170.2L1108.9 250.0L1110.4 216.7L1112.0 250.0L1113.5 234.5" stroke="#ff0000" stroke-width="1.60" stroke-dasharray="14 12" fill="none" stroke-linejoin="round" />
<path d="M659.0 69.2H1115.0" stroke="#00ff00" stroke-width="2" stroke-dasharray="9 7" fill="none"/>
<rect x="931.1" y="37.8" width="167.2" height="63.6" fill="#fff" stroke="#808080" stroke-width="2"/>
<path d="M937.0 50.3H999.6" stroke="#0000ff" stroke-width="3.0" stroke-dasharray="none" fill="none"/>
<text x="1004.2" y="56.5" font-size="16.80">NN Control</text>
<path d="M937.0 69.6H999.6" stroke="#ff0000" stroke-width="3.0" stroke-dasharray="14 12" fill="none"/>
<text x="1004.2" y="75.8" font-size="16.80">PID Control</text>
<path d="M937.0 89.4H999.6" stroke="#00ff00" stroke-width="2.0" stroke-dasharray="9 7" fill="none"/>
<text x="1004.2" y="95.6" font-size="16.80">Rated</text>
<text x="659.0" y="273.3" text-anchor="middle" font-size="19.30">0</text>
<text x="735.0" y="273.3" text-anchor="middle" font-size="19.30">5</text>
<text x="811.0" y="273.3" text-anchor="middle" font-size="19.30">10</text>
<text x="887.0" y="273.3" text-anchor="middle" font-size="19.30">15</text>
<text x="963.0" y="273.3" text-anchor="middle" font-size="19.30">20</text>
<text x="1039.0" y="273.3" text-anchor="middle" font-size="19.30">25</text>
<text x="1115.0" y="273.3" text-anchor="middle" font-size="19.30">30</text>
<text x="652.5" y="255.8" text-anchor="end" font-size="19.30">0</text>
<text x="652.5" y="210.6" text-anchor="end" font-size="19.30">0.5</text>
<text x="652.5" y="165.4" text-anchor="end" font-size="19.30">1</text>
<text x="652.5" y="120.2" text-anchor="end" font-size="19.30">1.5</text>
<text x="652.5" y="75.0" text-anchor="end" font-size="19.30">2</text>
<text x="652.5" y="29.8" text-anchor="end" font-size="19.30">2.5</text>
<text x="887.0" y="296.2" text-anchor="middle" font-size="20.80">Time (s)</text>
<text transform="translate(616.1 137.0) rotate(-90)" text-anchor="middle" font-size="20.80">Power (MW)</text>
<text x="887.0" y="16.8" text-anchor="middle" font-size="20.70" font-weight="bold" style="fill:#151515">Power Output Comparison</text>
<defs><clipPath id="clip02"><rect x="1259.00" y="24.00" width="455.00" height="226.00"/></clipPath></defs>
<path d="M1334.8 24.0V250.0M1410.7 24.0V250.0M1486.5 24.0V250.0M1562.3 24.0V250.0M1638.2 24.0V250.0M1259.0 204.8H1714.0M1259.0 159.6H1714.0M1259.0 114.4H1714.0M1259.0 69.2H1714.0" stroke="#dfdfdf" stroke-width="1" fill="none"/>
<path d="M1334.83 250.0V245.0M1334.83 24.0V29.0M1410.67 250.0V245.0M1410.67 24.0V29.0M1486.50 250.0V245.0M1486.50 24.0V29.0M1562.33 250.0V245.0M1562.33 24.0V29.0M1638.17 250.0V245.0M1638.17 24.0V29.0M1259.0 204.80H1264.0M1714.0 204.80H1709.0M1259.0 159.60H1264.0M1714.0 159.60H1709.0M1259.0 114.40H1264.0M1714.0 114.40H1709.0M1259.0 69.20H1264.0M1714.0 69.20H1709.0" stroke="#262626" stroke-width="1" fill="none"/>
<rect x="1259.00" y="24.00" width="455.00" height="226.00" fill="none" stroke="#808080" stroke-width="2"/>
<path clip-path="url(#clip02)" d="M1259.0 250.0L1259.4 250.0L1259.8 250.0L1260.1 250.0L1260.5 250.0L1260.9 250.0L1261.3 250.0L1261.7 250.0L1262.0 250.0L1262.4 250.0L1262.8 250.0L1263.2 250.0L1263.5 250.0L1263.9 250.0L1264.3 250.0L1264.7 250.0L1265.1 250.0L1265.4 250.0L1265.8 250.0L1266.2 250.0L1266.6 250.0L1267.0 250.0L1267.3 250.0L1267.7 250.0L1268.1 250.0L1268.5 250.0L1268.9 250.0L1269.2 250.0L1269.6 250.0L1270.0 250.0L1270.4 250.0L1270.8 250.0L1271.1 250.0L1271.5 250.0L1271.9 250.0L1272.3 250.0L1272.7 250.0L1273.0 250.0L1273.4 250.0L1273.8 243.8L1274.2 232.6L1274.5 225.9L1274.9 222.2L1275.3 222.0L1275.7 222.8L1276.1 223.0L1276.4 224.1L1276.8 226.2L1277.2 227.6L1277.6 229.5L1278.0 235.0L1278.3 242.1L1278.7 250.0L1279.1 250.0L1279.5 250.0L1279.9 250.0L1280.2 250.0L1280.6 250.0L1281.0 250.0L1281.4 250.0L1281.8 250.0L1282.1 250.0L1282.5 250.0L1282.9 250.0L1283.3 250.0L1283.6 250.0L1284.0 250.0L1284.4 250.0L1284.8 250.0L1285.2 250.0L1285.5 250.0L1285.9 250.0L1286.3 250.0L1286.7 250.0L1287.1 250.0L1287.4 247.4L1287.8 249.3L1288.2 250.0L1288.6 250.0L1289.0 250.0L1289.3 250.0L1289.7 250.0L1290.1 250.0L1290.5 250.0L1290.8 250.0L1291.2 250.0L1291.6 250.0L1292.0 250.0L1292.4 250.0L1292.7 250.0L1293.1 250.0L1293.5 250.0L1293.9 250.0L1294.3 248.5L1294.6 248.1L1295.0 249.9L1295.4 250.0L1295.8 250.0L1296.2 250.0L1296.5 250.0L1296.9 250.0L1297.3 249.7L1297.7 249.2L1298.1 248.9L1298.4 250.0L1298.8 250.0L1299.2 250.0L1299.6 250.0L1300.0 250.0L1300.3 250.0L1300.7 250.0L1301.1 250.0L1301.5 250.0L1301.8 250.0L1302.2 250.0L1302.6 250.0L1303.0 250.0L1303.4 250.0L1303.7 250.0L1304.1 250.0L1304.5 250.0L1304.9 250.0L1305.3 250.0L1305.6 250.0L1306.0 250.0L1306.4 250.0L1306.8 250.0L1307.2 250.0L1307.5 250.0L1307.9 250.0L1308.3 250.0L1308.7 250.0L1309.0 250.0L1309.4 250.0L1309.8 250.0L1310.2 250.0L1310.6 250.0L1310.9 250.0L1311.3 250.0L1311.7 250.0L1312.1 250.0L1312.5 250.0L1312.8 250.0L1313.2 250.0L1313.6 250.0L1314.0 250.0L1314.4 250.0L1314.7 250.0L1315.1 250.0L1315.5 250.0L1315.9 250.0L1316.3 250.0L1316.6 250.0L1317.0 250.0L1317.4 250.0L1317.8 250.0L1318.2 250.0L1318.5 250.0L1318.9 250.0L1319.3 250.0L1319.7 250.0L1320.0 250.0L1320.4 250.0L1320.8 250.0L1321.2 250.0L1321.6 250.0L1321.9 250.0L1322.3 250.0L1322.7 250.0L1323.1 250.0L1323.5 250.0L1323.8 250.0L1324.2 250.0L1324.6 250.0L1325.0 250.0L1325.4 250.0L1325.7 250.0L1326.1 250.0L1326.5 250.0L1326.9 250.0L1327.2 250.0L1327.6 250.0L1328.0 250.0L1328.4 250.0L1328.8 250.0L1329.1 250.0L1329.5 250.0L1329.9 250.0L1330.3 250.0L1330.7 250.0L1331.0 250.0L1331.4 250.0L1331.8 250.0L1332.2 250.0L1332.6 250.0L1332.9 250.0L1333.3 250.0L1333.7 250.0L1334.1 250.0L1334.5 250.0L1334.8 250.0L1335.2 250.0L1335.6 250.0L1336.0 250.0L1336.3 250.0L1336.7 250.0L1337.1 250.0L1337.5 250.0L1337.9 250.0L1338.2 250.0L1338.6 250.0L1339.0 250.0L1339.4 250.0L1339.8 250.0L1340.1 250.0L1340.5 250.0L1340.9 250.0L1341.3 250.0L1341.7 250.0L1342.0 250.0L1342.4 250.0L1342.8 250.0L1343.2 250.0L1343.6 250.0L1343.9 250.0L1344.3 250.0L1344.7 250.0L1345.1 250.0L1345.5 250.0L1345.8 250.0L1346.2 250.0L1346.6 250.0L1347.0 250.0L1347.3 250.0L1347.7 250.0L1348.1 250.0L1348.5 250.0L1348.9 250.0L1349.2 250.0L1349.6 250.0L1350.0 250.0L1350.4 250.0L1350.8 250.0L1351.1 250.0L1351.5 250.0L1351.9 250.0L1352.3 250.0L1352.7 250.0L1353.0 250.0L1353.4 250.0L1353.8 250.0L1354.2 250.0L1354.5 250.0L1354.9 250.0L1355.3 250.0L1355.7 250.0L1356.1 250.0L1356.4 250.0L1356.8 250.0L1357.2 250.0L1357.6 250.0L1358.0 250.0L1358.3 250.0L1358.7 250.0L1359.1 250.0L1359.5 250.0L1359.9 250.0L1360.2 250.0L1360.6 250.0L1361.0 250.0L1361.4 250.0L1361.8 250.0L1362.1 250.0L1362.5 250.0L1362.9 250.0L1363.3 250.0L1363.7 250.0L1364.0 250.0L1364.4 250.0L1364.8 250.0L1365.2 250.0L1365.5 250.0L1365.9 250.0L1366.3 250.0L1366.7 250.0L1367.1 250.0L1367.4 250.0L1367.8 250.0L1368.2 250.0L1368.6 250.0L1369.0 250.0L1369.3 250.0L1369.7 250.0L1370.1 250.0L1370.5 250.0L1370.9 250.0L1371.2 250.0L1371.6 250.0L1372.0 250.0L1372.4 250.0L1372.8 250.0L1373.1 250.0L1373.5 250.0L1373.9 250.0L1374.3 250.0L1374.6 250.0L1375.0 250.0L1375.4 250.0L1375.8 250.0L1376.2 250.0L1376.5 250.0L1376.9 250.0L1377.3 250.0L1377.7 250.0L1378.1 250.0L1378.4 250.0L1378.8 250.0L1379.2 250.0L1379.6 250.0L1380.0 250.0L1380.3 250.0L1380.7 250.0L1381.1 250.0L1381.5 250.0L1381.8 250.0L1382.2 250.0L1382.6 250.0L1383.0 250.0L1383.4 250.0L1383.7 250.0L1384.1 250.0L1384.5 250.0L1384.9 250.0L1385.3 250.0L1385.6 250.0L1386.0 250.0L1386.4 250.0L1386.8 250.0L1387.2 250.0L1387.5 250.0L1387.9 250.0L1388.3 250.0L1388.7 250.0L1389.1 250.0L1389.4 250.0L1389.8 250.0L1390.2 250.0L1390.6 250.0L1391.0 250.0L1391.3 250.0L1391.7 250.0L1392.1 250.0L1392.5 250.0L1392.8 250.0L1393.2 250.0L1393.6 250.0L1394.0 250.0L1394.4 246.3L1394.7 240.3L1395.1 233.3L1395.5 224.2L1395.9 217.3L1396.3 216.1L1396.6 220.9L1397.0 227.1L1397.4 231.6L1397.8 238.4L1398.2 248.0L1398.5 250.0L1398.9 250.0L1399.3 250.0L1399.7 250.0L1400.0 250.0L1400.4 250.0L1400.8 250.0L1401.2 250.0L1401.6 250.0L1401.9 250.0L1402.3 250.0L1402.7 250.0L1403.1 250.0L1403.5 250.0L1403.8 242.5L1404.2 235.2L1404.6 229.7L1405.0 226.6L1405.4 226.5L1405.7 230.1L1406.1 238.7L1406.5 250.0L1406.9 250.0L1407.3 250.0L1407.6 250.0L1408.0 250.0L1408.4 250.0L1408.8 250.0L1409.2 250.0L1409.5 250.0L1409.9 250.0L1410.3 250.0L1410.7 250.0L1411.0 250.0L1411.4 250.0L1411.8 249.9L1412.2 243.9L1412.6 238.9L1412.9 234.5L1413.3 231.2L1413.7 234.4L1414.1 244.7L1414.5 250.0L1414.8 250.0L1415.2 250.0L1415.6 250.0L1416.0 250.0L1416.4 250.0L1416.7 250.0L1417.1 250.0L1417.5 250.0L1417.9 245.9L1418.2 239.1L1418.6 234.7L1419.0 231.2L1419.4 227.6L1419.8 224.8L1420.1 222.3L1420.5 220.8L1420.9 222.1L1421.3 226.7L1421.7 233.1L1422.0 240.2L1422.4 248.0L1422.8 250.0L1423.2 250.0L1423.6 250.0L1423.9 250.0L1424.3 250.0L1424.7 250.0L1425.1 250.0L1425.5 250.0L1425.8 250.0L1426.2 250.0L1426.6 250.0L1427.0 250.0L1427.3 250.0L1427.7 250.0L1428.1 250.0L1428.5 250.0L1428.9 250.0L1429.2 250.0L1429.6 250.0L1430.0 250.0L1430.4 250.0L1430.8 250.0L1431.1 250.0L1431.5 250.0L1431.9 250.0L1432.3 250.0L1432.7 250.0L1433.0 250.0L1433.4 250.0L1433.8 250.0L1434.2 250.0L1434.6 250.0L1434.9 250.0L1435.3 250.0L1435.7 250.0L1436.1 250.0L1436.5 250.0L1436.8 250.0L1437.2 250.0L1437.6 250.0L1438.0 250.0L1438.3 250.0L1438.7 250.0L1439.1 250.0L1439.5 250.0L1439.9 250.0L1440.2 250.0L1440.6 250.0L1441.0 250.0L1441.4 250.0L1441.8 250.0L1442.1 250.0L1442.5 250.0L1442.9 250.0L1443.3 250.0L1443.7 250.0L1444.0 250.0L1444.4 250.0L1444.8 250.0L1445.2 250.0L1445.5 250.0L1445.9 250.0L1446.3 246.4L1446.7 243.6L1447.1 244.4L1447.4 248.8L1447.8 250.0L1448.2 250.0L1448.6 250.0L1449.0 250.0L1449.3 250.0L1449.7 250.0L1450.1 250.0L1450.5 250.0L1450.9 250.0L1451.2 250.0L1451.6 250.0L1452.0 250.0L1452.4 250.0L1452.8 249.8L1453.1 243.9L1453.5 238.6L1453.9 236.8L1454.3 236.2L1454.7 233.9L1455.0 231.6L1455.4 232.3L1455.8 235.0L1456.2 236.4L1456.5 237.8L1456.9 239.3L1457.3 238.6L1457.7 236.4L1458.1 236.5L1458.4 239.2L1458.8 240.7L1459.2 240.7L1459.6 241.7L1460.0 241.3L1460.3 236.0L1460.7 227.5L1461.1 218.8L1461.5 212.4L1461.9 208.2L1462.2 202.6L1462.6 193.7L1463.0 183.9L1463.4 178.1L1463.8 175.4L1464.1 173.2L1464.5 172.3L1464.9 173.5L1465.3 176.2L1465.6 178.9L1466.0 183.4L1466.4 190.4L1466.8 194.8L1467.2 194.5L1467.5 192.0L1467.9 190.6L1468.3 190.2L1468.7 186.9L1469.1 179.8L1469.4 170.8L1469.8 163.7L1470.2 161.2L1470.6 161.0L1471.0 160.4L1471.3 158.5L1471.7 154.7L1472.1 150.3L1472.5 148.6L1472.8 151.4L1473.2 155.9L1473.6 157.9L1474.0 156.9L1474.4 158.1L1474.7 163.0L1475.1 167.6L1475.5 169.2L1475.9 171.1L1476.3 177.9L1476.6 189.9L1477.0 204.5L1477.4 218.2L1477.8 227.0L1478.2 229.6L1478.5 229.7L1478.9 231.3L1479.3 235.3L1479.7 240.9L1480.1 247.8L1480.4 250.0L1480.8 250.0L1481.2 250.0L1481.6 250.0L1482.0 250.0L1482.3 250.0L1482.7 250.0L1483.1 250.0L1483.5 250.0L1483.8 250.0L1484.2 250.0L1484.6 250.0L1485.0 250.0L1485.4 250.0L1485.7 250.0L1486.1 250.0L1486.5 250.0L1486.9 250.0L1487.3 250.0L1487.6 250.0L1488.0 250.0L1488.4 250.0L1488.8 250.0L1489.2 250.0L1489.5 250.0L1489.9 250.0L1490.3 250.0L1490.7 250.0L1491.0 250.0L1491.4 250.0L1491.8 250.0L1492.2 250.0L1492.6 250.0L1492.9 250.0L1493.3 250.0L1493.7 250.0L1494.1 250.0L1494.5 250.0L1494.8 250.0L1495.2 250.0L1495.6 250.0L1496.0 250.0L1496.4 250.0L1496.7 250.0L1497.1 250.0L1497.5 250.0L1497.9 250.0L1498.3 250.0L1498.6 250.0L1499.0 250.0L1499.4 250.0L1499.8 250.0L1500.2 250.0L1500.5 250.0L1500.9 250.0L1501.3 250.0L1501.7 250.0L1502.0 250.0L1502.4 250.0L1502.8 250.0L1503.2 250.0L1503.6 250.0L1503.9 250.0L1504.3 250.0L1504.7 250.0L1505.1 250.0L1505.5 250.0L1505.8 250.0L1506.2 250.0L1506.6 250.0L1507.0 250.0L1507.4 250.0L1507.7 250.0L1508.1 250.0L1508.5 250.0L1508.9 250.0L1509.2 250.0L1509.6 250.0L1510.0 250.0L1510.4 250.0L1510.8 250.0L1511.1 250.0L1511.5 250.0L1511.9 250.0L1512.3 250.0L1512.7 250.0L1513.0 250.0L1513.4 250.0L1513.8 250.0L1514.2 250.0L1514.6 250.0L1514.9 250.0L1515.3 250.0L1515.7 250.0L1516.1 250.0L1516.5 250.0L1516.8 250.0L1517.2 250.0L1517.6 250.0L1518.0 250.0L1518.3 250.0L1518.7 250.0L1519.1 250.0L1519.5 250.0L1519.9 250.0L1520.2 250.0L1520.6 250.0L1521.0 250.0L1521.4 250.0L1521.8 250.0L1522.1 250.0L1522.5 250.0L1522.9 250.0L1523.3 250.0L1523.7 250.0L1524.0 250.0L1524.4 250.0L1524.8 250.0L1525.2 250.0L1525.6 250.0L1525.9 250.0L1526.3 250.0L1526.7 250.0L1527.1 250.0L1527.5 250.0L1527.8 250.0L1528.2 250.0L1528.6 250.0L1529.0 250.0L1529.3 250.0L1529.7 250.0L1530.1 250.0L1530.5 250.0L1530.9 250.0L1531.2 250.0L1531.6 250.0L1532.0 250.0L1532.4 250.0L1532.8 250.0L1533.1 250.0L1533.5 250.0L1533.9 250.0L1534.3 250.0L1534.7 250.0L1535.0 250.0L1535.4 250.0L1535.8 250.0L1536.2 250.0L1536.5 250.0L1536.9 250.0L1537.3 250.0L1537.7 250.0L1538.1 250.0L1538.4 250.0L1538.8 250.0L1539.2 250.0L1539.6 250.0L1540.0 250.0L1540.3 250.0L1540.7 250.0L1541.1 250.0L1541.5 250.0L1541.9 250.0L1542.2 250.0L1542.6 250.0L1543.0 250.0L1543.4 250.0L1543.8 250.0L1544.1 250.0L1544.5 250.0L1544.9 250.0L1545.3 250.0L1545.7 250.0L1546.0 250.0L1546.4 250.0L1546.8 250.0L1547.2 250.0L1547.5 250.0L1547.9 250.0L1548.3 250.0L1548.7 250.0L1549.1 250.0L1549.4 250.0L1549.8 250.0L1550.2 250.0L1550.6 250.0L1551.0 250.0L1551.3 250.0L1551.7 250.0L1552.1 250.0L1552.5 250.0L1552.9 250.0L1553.2 250.0L1553.6 250.0L1554.0 250.0L1554.4 250.0L1554.8 250.0L1555.1 250.0L1555.5 250.0L1555.9 250.0L1556.3 250.0L1556.6 250.0L1557.0 250.0L1557.4 250.0L1557.8 250.0L1558.2 250.0L1558.5 250.0L1558.9 250.0L1559.3 250.0L1559.7 250.0L1560.1 250.0L1560.4 250.0L1560.8 250.0L1561.2 250.0L1561.6 250.0L1562.0 250.0L1562.3 250.0L1562.7 250.0L1563.1 250.0L1563.5 250.0L1563.8 250.0L1564.2 250.0L1564.6 250.0L1565.0 250.0L1565.4 250.0L1565.7 250.0L1566.1 250.0L1566.5 250.0L1566.9 250.0L1567.3 250.0L1567.6 250.0L1568.0 250.0L1568.4 250.0L1568.8 250.0L1569.2 250.0L1569.5 250.0L1569.9 250.0L1570.3 250.0L1570.7 250.0L1571.1 250.0L1571.4 250.0L1571.8 250.0L1572.2 250.0L1572.6 250.0L1573.0 250.0L1573.3 250.0L1573.7 250.0L1574.1 250.0L1574.5 250.0L1574.8 250.0L1575.2 250.0L1575.6 250.0L1576.0 250.0L1576.4 250.0L1576.7 250.0L1577.1 250.0L1577.5 250.0L1577.9 250.0L1578.3 250.0L1578.6 250.0L1579.0 250.0L1579.4 250.0L1579.8 246.0L1580.2 241.2L1580.5 238.5L1580.9 236.1L1581.3 229.8L1581.7 218.8L1582.0 205.6L1582.4 194.8L1582.8 193.6L1583.2 199.3L1583.6 207.2L1583.9 212.0L1584.3 215.2L1584.7 220.0L1585.1 224.7L1585.5 234.3L1585.8 249.9L1586.2 250.0L1586.6 250.0L1587.0 250.0L1587.4 250.0L1587.7 250.0L1588.1 250.0L1588.5 250.0L1588.9 250.0L1589.3 250.0L1589.6 250.0L1590.0 250.0L1590.4 250.0L1590.8 250.0L1591.2 250.0L1591.5 250.0L1591.9 250.0L1592.3 250.0L1592.7 250.0L1593.0 250.0L1593.4 250.0L1593.8 250.0L1594.2 250.0L1594.6 250.0L1594.9 250.0L1595.3 250.0L1595.7 250.0L1596.1 250.0L1596.5 250.0L1596.8 248.7L1597.2 248.9L1597.6 248.2L1598.0 241.9L1598.4 236.4L1598.7 238.9L1599.1 250.0L1599.5 250.0L1599.9 250.0L1600.2 250.0L1600.6 250.0L1601.0 250.0L1601.4 250.0L1601.8 250.0L1602.1 250.0L1602.5 250.0L1602.9 250.0L1603.3 250.0L1603.7 250.0L1604.0 250.0L1604.4 250.0L1604.8 250.0L1605.2 250.0L1605.6 250.0L1605.9 250.0L1606.3 250.0L1606.7 250.0L1607.1 250.0L1607.5 250.0L1607.8 250.0L1608.2 250.0L1608.6 250.0L1609.0 250.0L1609.3 250.0L1609.7 250.0L1610.1 250.0L1610.5 250.0L1610.9 250.0L1611.2 250.0L1611.6 250.0L1612.0 250.0L1612.4 250.0L1612.8 250.0L1613.1 250.0L1613.5 250.0L1613.9 250.0L1614.3 250.0L1614.7 250.0L1615.0 250.0L1615.4 250.0L1615.8 249.7L1616.2 238.0L1616.6 230.0L1616.9 227.8L1617.3 228.4L1617.7 229.7L1618.1 233.1L1618.5 237.0L1618.8 242.9L1619.2 250.0L1619.6 250.0L1620.0 250.0L1620.3 250.0L1620.7 250.0L1621.1 250.0L1621.5 250.0L1621.9 245.3L1622.2 243.0L1622.6 241.2L1623.0 240.2L1623.4 239.4L1623.8 236.5L1624.1 233.5L1624.5 228.7L1624.9 225.9L1625.3 224.3L1625.7 222.5L1626.0 220.0L1626.4 216.7L1626.8 215.2L1627.2 213.0L1627.5 212.1L1627.9 211.8L1628.3 209.7L1628.7 204.9L1629.1 199.3L1629.4 197.2L1629.8 198.3L1630.2 206.3L1630.6 221.7L1631.0 240.1L1631.3 250.0L1631.7 250.0L1632.1 250.0L1632.5 250.0L1632.9 250.0L1633.2 250.0L1633.6 250.0L1634.0 250.0L1634.4 250.0L1634.8 250.0L1635.1 250.0L1635.5 250.0L1635.9 250.0L1636.3 250.0L1636.7 250.0L1637.0 250.0L1637.4 250.0L1637.8 250.0L1638.2 250.0L1638.5 250.0L1638.9 250.0L1639.3 250.0L1639.7 250.0L1640.1 250.0L1640.4 250.0L1640.8 250.0L1641.2 250.0L1641.6 250.0L1642.0 250.0L1642.3 250.0L1642.7 250.0L1643.1 250.0L1643.5 250.0L1643.9 250.0L1644.2 250.0L1644.6 250.0L1645.0 250.0L1645.4 250.0L1645.8 250.0L1646.1 250.0L1646.5 250.0L1646.9 250.0L1647.3 250.0L1647.6 250.0L1648.0 250.0L1648.4 250.0L1648.8 250.0L1649.2 250.0L1649.5 250.0L1649.9 250.0L1650.3 250.0L1650.7 250.0L1651.1 250.0L1651.4 250.0L1651.8 250.0L1652.2 250.0L1652.6 250.0L1653.0 250.0L1653.3 250.0L1653.7 250.0L1654.1 250.0L1654.5 250.0L1654.8 250.0L1655.2 250.0L1655.6 250.0L1656.0 250.0L1656.4 250.0L1656.7 250.0L1657.1 250.0L1657.5 250.0L1657.9 250.0L1658.3 250.0L1658.6 250.0L1659.0 250.0L1659.4 250.0L1659.8 250.0L1660.2 250.0L1660.5 250.0L1660.9 250.0L1661.3 250.0L1661.7 250.0L1662.1 250.0L1662.4 250.0L1662.8 250.0L1663.2 250.0L1663.6 250.0L1664.0 250.0L1664.3 250.0L1664.7 250.0L1665.1 250.0L1665.5 250.0L1665.8 250.0L1666.2 250.0L1666.6 250.0L1667.0 250.0L1667.4 250.0L1667.7 250.0L1668.1 250.0L1668.5 250.0L1668.9 250.0L1669.3 250.0L1669.6 250.0L1670.0 250.0L1670.4 250.0L1670.8 250.0L1671.2 250.0L1671.5 250.0L1671.9 250.0L1672.3 250.0L1672.7 250.0L1673.0 250.0L1673.4 250.0L1673.8 250.0L1674.2 250.0L1674.6 250.0L1674.9 250.0L1675.3 250.0L1675.7 250.0L1676.1 250.0L1676.5 250.0L1676.8 250.0L1677.2 250.0L1677.6 250.0L1678.0 250.0L1678.4 250.0L1678.7 250.0L1679.1 250.0L1679.5 250.0L1679.9 250.0L1680.3 250.0L1680.6 250.0L1681.0 250.0L1681.4 250.0L1681.8 250.0L1682.2 250.0L1682.5 250.0L1682.9 250.0L1683.3 250.0L1683.7 250.0L1684.0 250.0L1684.4 250.0L1684.8 250.0L1685.2 250.0L1685.6 250.0L1685.9 250.0L1686.3 250.0L1686.7 250.0L1687.1 250.0L1687.5 250.0L1687.8 250.0L1688.2 250.0L1688.6 250.0L1689.0 250.0L1689.4 250.0L1689.7 250.0L1690.1 250.0L1690.5 250.0L1690.9 250.0L1691.2 250.0L1691.6 250.0L1692.0 250.0L1692.4 250.0L1692.8 250.0L1693.1 250.0L1693.5 250.0L1693.9 250.0L1694.3 250.0L1694.7 250.0L1695.0 250.0L1695.4 250.0L1695.8 250.0L1696.2 250.0L1696.6 250.0L1696.9 250.0L1697.3 250.0L1697.7 250.0L1698.1 250.0L1698.5 250.0L1698.8 250.0L1699.2 250.0L1699.6 250.0L1700.0 250.0L1700.3 250.0L1700.7 250.0L1701.1 250.0L1701.5 250.0L1701.9 250.0L1702.2 250.0L1702.6 250.0L1703.0 250.0L1703.4 250.0L1703.8 250.0L1704.1 250.0L1704.5 250.0L1704.9 250.0L1705.3 250.0L1705.7 250.0L1706.0 250.0L1706.4 250.0L1706.8 250.0L1707.2 250.0L1707.6 250.0L1707.9 250.0L1708.3 250.0L1708.7 250.0L1709.1 250.0L1709.5 250.0L1709.8 250.0L1710.2 250.0L1710.6 250.0L1711.0 250.0L1711.3 250.0L1711.7 250.0L1712.1 250.0L1712.5 250.0L1712.9 250.0L1713.2 250.0L1713.6 250.0" stroke="#0000ff" stroke-width="3.00" stroke-dasharray="none" fill="none" stroke-linejoin="round" />
<path clip-path="url(#clip02)" d="M1262.5 24.0L1264.5 250.0L1265.2 24.0L1266.0 250.0L1266.7 24.0L1267.5 250.0L1268.3 24.0L1269.0 250.0L1269.8 24.0L1270.5 250.0L1271.3 24.0L1272.0 250.0L1272.8 24.0L1273.6 250.0L1274.3 24.0L1275.1 250.0L1275.8 24.0L1276.6 250.0L1277.4 24.0L1278.1 250.0L1278.9 24.0L1279.6 250.0L1280.4 24.0L1281.1 250.0L1281.9 24.0L1282.7 250.0L1283.4 24.0L1284.2 250.0L1284.9 24.0L1285.7 250.0L1286.5 24.0L1287.2 250.0L1288.0 24.0L1288.7 250.0L1289.5 24.0L1290.2 250.0L1291.0 24.0L1291.8 250.0L1292.5 24.0L1293.3 250.0L1294.0 24.0L1294.8 250.0L1295.6 24.0L1296.3 250.0L1297.1 24.0L1297.8 250.0L1298.6 24.0L1299.3 250.0L1300.1 24.0L1300.9 250.0L1301.6 24.0L1302.4 250.0L1303.1 24.0L1303.9 250.0L1304.7 24.0L1305.4 250.0L1306.2 24.0L1306.9 250.0L1307.7 24.0L1308.4 250.0L1309.2 24.0L1310.0 250.0L1310.7 24.0L1311.5 250.0L1312.2 24.0L1313.0 250.0L1313.8 24.0L1314.5 250.0L1315.3 24.0L1316.0 250.0L1316.8 24.0L1317.5 250.0L1318.3 24.0L1319.1 250.0L1319.8 24.0L1320.6 250.0L1321.3 24.0L1322.1 250.0L1322.9 24.0L1323.6 250.0L1324.4 24.0L1325.1 250.0L1325.9 24.0L1326.6 250.0L1327.4 24.0L1328.2 250.0L1328.9 24.0L1329.7 250.0L1330.4 24.0L1331.2 250.0L1332.0 24.0L1332.7 250.0L1333.5 24.0L1334.2 250.0L1335.0 24.0L1335.7 250.0L1336.5 24.0L1337.3 250.0L1338.0 24.0L1338.8 250.0L1339.5 24.0L1340.3 250.0L1341.1 24.0L1341.8 250.0L1342.6 24.0L1343.3 250.0L1344.1 24.0L1344.8 250.0L1345.6 24.0L1346.4 250.0L1347.1 24.0L1347.9 250.0L1348.6 24.0L1349.4 250.0L1350.2 24.0L1350.9 250.0L1351.7 24.0L1352.4 250.0L1353.2 24.0L1353.9 250.0L1354.7 24.0L1355.5 250.0L1356.2 24.0L1357.0 250.0L1357.7 24.0L1358.5 250.0L1359.3 24.0L1360.0 250.0L1360.8 24.0L1361.5 250.0L1362.3 24.0L1363.0 250.0L1363.8 24.0L1364.6 250.0L1365.3 24.0L1366.1 250.0L1366.8 24.0L1367.6 250.0L1368.4 24.0L1369.1 250.0L1369.9 24.0L1370.6 250.0L1371.4 24.0L1372.1 250.0L1372.9 24.0L1373.7 250.0L1374.4 24.0L1375.2 250.0L1375.9 24.0L1376.7 250.0L1377.5 24.0L1378.2 250.0L1379.0 24.0L1379.7 250.0L1380.5 24.0L1381.2 250.0L1382.0 24.0L1382.8 250.0L1383.5 24.0L1384.3 250.0L1385.0 24.0L1385.8 250.0L1386.6 24.0L1387.3 250.0L1388.1 24.0L1388.8 250.0L1389.6 24.0L1390.3 250.0L1391.1 24.0L1391.9 250.0L1392.6 24.0L1393.4 250.0L1394.1 24.0L1394.9 250.0L1395.7 24.0L1396.4 250.0L1397.2 24.0L1397.9 250.0L1398.7 24.0L1399.4 250.0L1400.2 24.0L1401.0 250.0L1401.7 24.0L1402.5 250.0L1403.2 24.0L1404.0 250.0L1404.8 24.0L1405.5 250.0L1406.3 24.0L1407.0 250.0L1407.8 24.0L1408.5 250.0L1409.3 24.0L1410.1 250.0L1410.8 24.0L1411.6 250.0L1412.3 24.0L1413.1 250.0L1413.9 24.0L1414.6 250.0L1415.4 24.0L1416.1 250.0L1416.9 24.0L1417.6 250.0L1418.4 24.0L1419.2 250.0L1419.9 24.0L1420.7 250.0L1421.4 24.0L1422.2 250.0L1423.0 24.0L1423.7 250.0L1424.5 24.0L1425.2 250.0L1426.0 24.0L1426.7 250.0L1427.5 24.0L1428.3 250.0L1429.0 24.0L1429.8 250.0L1430.5 24.0L1431.3 250.0L1432.1 24.0L1432.8 250.0L1433.6 24.0L1434.3 250.0L1435.1 24.0L1435.8 250.0L1436.6 24.0L1437.4 250.0L1438.1 24.0L1438.9 250.0L1439.6 24.0L1440.4 250.0L1441.2 24.0L1441.9 250.0L1442.7 24.0L1443.4 250.0L1444.2 24.0L1444.9 250.0L1445.7 24.0L1446.5 250.0L1447.2 24.0L1448.0 250.0L1448.7 24.0L1449.5 250.0L1450.3 24.0L1451.0 250.0L1451.8 24.0L1452.5 250.0L1453.3 24.0L1454.0 250.0L1454.8 24.0L1455.6 250.0L1456.3 24.0L1457.1 250.0L1457.8 24.0L1458.6 250.0L1459.4 24.0L1460.1 250.0L1460.9 24.0L1461.6 250.0L1462.4 24.0L1463.1 250.0L1463.9 24.0L1464.7 250.0L1465.4 24.0L1466.2 250.0L1466.9 24.0L1467.7 250.0L1468.5 24.0L1469.2 250.0L1470.0 24.0L1470.7 250.0L1471.5 24.0L1472.2 250.0L1473.0 24.0L1473.8 250.0L1474.5 24.0L1475.3 250.0L1476.0 24.0L1476.8 250.0L1477.6 24.0L1478.3 250.0L1479.1 24.0L1479.8 250.0L1480.6 24.0L1481.3 250.0L1482.1 24.0L1482.9 250.0L1483.6 24.0L1484.4 250.0L1485.1 24.0L1485.9 250.0L1486.7 24.0L1487.4 250.0L1488.2 24.0L1488.9 250.0L1489.7 24.0L1490.4 250.0L1491.2 24.0L1492.0 250.0L1492.7 24.0L1493.5 250.0L1494.2 24.0L1495.0 250.0L1495.8 24.0L1496.5 250.0L1497.3 24.0L1498.0 250.0L1498.8 24.0L1499.5 250.0L1500.3 24.0L1501.1 250.0L1501.8 24.0L1502.6 250.0L1503.3 24.0L1504.1 250.0L1504.9 24.0L1505.6 250.0L1506.4 24.0L1507.1 250.0L1507.9 24.0L1508.6 250.0L1509.4 24.0L1510.2 250.0L1510.9 24.0L1511.7 250.0L1512.4 24.0L1513.2 250.0L1514.0 24.0L1514.7 250.0L1515.5 24.0L1516.2 250.0L1517.0 24.0L1517.7 250.0L1518.5 24.0L1519.3 250.0L1520.0 24.0L1520.8 250.0L1521.5 24.0L1522.3 250.0L1523.1 24.0L1523.8 250.0L1524.6 24.0L1525.3 250.0L1526.1 24.0L1526.8 250.0L1527.6 24.0L1528.4 250.0L1529.1 24.0L1529.9 250.0L1530.6 24.0L1531.4 250.0L1532.2 24.0L1532.9 250.0L1533.7 24.0L1534.4 250.0L1535.2 24.0L1535.9 250.0L1536.7 24.0L1537.5 250.0L1538.2 24.0L1539.0 250.0L1539.7 24.0L1540.5 250.0L1541.3 24.0L1542.0 250.0L1542.8 24.0L1543.5 250.0L1544.3 24.0L1545.0 250.0L1545.8 24.0L1546.6 250.0L1547.3 24.0L1548.1 250.0L1548.8 24.0L1549.6 250.0L1550.4 24.0L1551.1 250.0L1551.9 24.0L1552.6 250.0L1553.4 24.0L1554.1 250.0L1554.9 24.0L1555.7 250.0L1556.4 24.0L1557.2 250.0L1557.9 24.0L1558.7 250.0L1559.5 24.0L1560.2 250.0L1561.0 24.0L1561.7 250.0L1562.5 24.0L1563.2 250.0L1564.0 24.0L1564.8 250.0L1565.5 24.0L1566.3 250.0L1567.0 24.0L1567.8 250.0L1568.6 24.0L1569.3 250.0L1570.1 24.0L1570.8 250.0L1571.6 24.0L1572.3 250.0L1573.1 24.0L1573.9 250.0L1574.6 24.0L1575.4 250.0L1576.1 24.0L1576.9 250.0L1577.7 24.0L1578.4 250.0L1579.2 24.0L1579.9 250.0L1580.7 24.0L1581.4 250.0L1582.2 24.0L1583.0 250.0L1583.7 24.0L1584.5 250.0L1585.2 24.0L1586.0 250.0L1586.8 24.0L1587.5 250.0L1588.3 24.0L1589.0 250.0L1589.8 24.0L1590.5 250.0L1591.3 24.0L1592.1 250.0L1592.8 24.0L1593.6 250.0L1594.3 24.0L1595.1 250.0L1595.9 24.0L1596.6 250.0L1597.4 24.0L1598.1 250.0L1598.9 24.0L1599.6 250.0L1600.4 24.0L1601.2 250.0L1601.9 24.0L1602.7 250.0L1603.4 24.0L1604.2 250.0L1605.0 24.0L1605.7 250.0L1606.5 24.0L1607.2 250.0L1608.0 24.0L1608.7 250.0L1609.5 24.0L1610.3 250.0L1611.0 24.0L1611.8 250.0L1612.5 24.0L1613.3 250.0L1614.1 24.0L1614.8 250.0L1615.6 24.0L1616.3 250.0L1617.1 24.0L1617.8 250.0L1618.6 24.0L1619.4 250.0L1620.1 24.0L1620.9 250.0L1621.6 24.0L1622.4 250.0L1623.2 24.0L1623.9 250.0L1624.7 24.0L1625.4 250.0L1626.2 24.0L1626.9 250.0L1627.7 24.0L1628.5 250.0L1629.2 24.0L1630.0 250.0L1630.7 24.0L1631.5 250.0L1632.3 24.0L1633.0 250.0L1633.8 24.0L1634.5 250.0L1635.3 24.0L1636.0 250.0L1636.8 24.0L1637.6 250.0L1638.3 24.0L1639.1 250.0L1639.8 24.0L1640.6 250.0L1641.4 24.0L1642.1 250.0L1642.9 24.0L1643.6 250.0L1644.4 24.0L1645.1 250.0L1645.9 24.0L1646.7 250.0L1647.4 24.0L1648.2 250.0L1648.9 24.0L1649.7 250.0L1650.5 24.0L1651.2 250.0L1652.0 24.0L1652.7 250.0L1653.5 24.0L1654.2 250.0L1655.0 24.0L1655.8 250.0L1656.5 24.0L1657.3 250.0L1658.0 24.0L1658.8 250.0L1659.6 24.0L1660.3 250.0L1661.1 24.0L1661.8 250.0L1662.6 24.0L1663.3 250.0L1664.1 24.0L1664.9 250.0L1665.6 24.0L1666.4 250.0L1667.1 24.0L1667.9 250.0L1668.7 24.0L1669.4 250.0L1670.2 24.0L1670.9 250.0L1671.7 24.0L1672.4 250.0L1673.2 24.0L1674.0 250.0L1674.7 24.0L1675.5 250.0L1676.2 24.0L1677.0 250.0L1677.8 24.0L1678.5 250.0L1679.3 24.0L1680.0 250.0L1680.8 24.0L1681.5 250.0L1682.3 24.0L1683.1 250.0L1683.8 24.0L1684.6 250.0L1685.3 24.0L1686.1 250.0L1686.9 24.0L1687.6 250.0L1688.4 24.0L1689.1 250.0L1689.9 24.0L1690.6 250.0L1691.4 24.0L1692.2 250.0L1692.9 24.0L1693.7 250.0L1694.4 24.0L1695.2 250.0L1696.0 24.0L1696.7 250.0L1697.5 24.0L1698.2 250.0L1699.0 24.0L1699.7 250.0L1700.5 24.0L1701.3 250.0L1702.0 24.0L1702.8 250.0L1703.5 24.0L1704.3 250.0L1705.1 24.0L1705.8 250.0L1706.6 24.0L1707.3 250.0L1708.1 24.0L1708.8 250.0L1709.6 24.0L1710.4 250.0L1711.1 24.0L1711.9 250.0L1712.6 24.0L1713.4 250.0" stroke="#ff0000" stroke-width="0.65" stroke-dasharray="14 12" fill="none" stroke-linejoin="round" />
<path clip-path="url(#clip02)" d="M1259.0 250.0L1260.5 236.4L1262.5 250.0L1262.5 24.0" stroke="#ff0000" stroke-width="3.00" stroke-dasharray="14 12" fill="none" stroke-linejoin="round" />
<rect x="1530.4" y="38.1" width="167.0" height="44.6" fill="#fff" stroke="#808080" stroke-width="2"/>
<path d="M1536.5 50.2H1598.0" stroke="#0000ff" stroke-width="3.0" stroke-dasharray="none" fill="none"/>
<text x="1603.2" y="56.4" font-size="16.80">NN Control</text>
<path d="M1536.5 69.9H1598.0" stroke="#ff0000" stroke-width="3.0" stroke-dasharray="14 12" fill="none"/>
<text x="1603.2" y="76.1" font-size="16.80">PID Control</text>
<text x="1259.0" y="273.3" text-anchor="middle" font-size="19.30">0</text>
<text x="1334.8" y="273.3" text-anchor="middle" font-size="19.30">5</text>
<text x="1410.7" y="273.3" text-anchor="middle" font-size="19.30">10</text>
<text x="1486.5" y="273.3" text-anchor="middle" font-size="19.30">15</text>
<text x="1562.3" y="273.3" text-anchor="middle" font-size="19.30">20</text>
<text x="1638.2" y="273.3" text-anchor="middle" font-size="19.30">25</text>
<text x="1714.0" y="273.3" text-anchor="middle" font-size="19.30">30</text>
<text x="1252.5" y="255.8" text-anchor="end" font-size="19.30">0</text>
<text x="1252.5" y="210.6" text-anchor="end" font-size="19.30">5</text>
<text x="1252.5" y="165.4" text-anchor="end" font-size="19.30">10</text>
<text x="1252.5" y="120.2" text-anchor="end" font-size="19.30">15</text>
<text x="1252.5" y="75.0" text-anchor="end" font-size="19.30">20</text>
<text x="1252.5" y="29.8" text-anchor="end" font-size="19.30">25</text>
<text x="1486.5" y="296.2" text-anchor="middle" font-size="20.80">Time (s)</text>
<text transform="translate(1221.9 137.0) rotate(-90)" text-anchor="middle" font-size="20.80">Pitch Angle (deg)</text>
<text x="1486.5" y="16.8" text-anchor="middle" font-size="20.70" font-weight="bold" style="fill:#151515">Pitch Control Comparison</text>
<defs><clipPath id="clip10"><rect x="60.00" y="338.00" width="455.00" height="226.00"/></clipPath></defs>
<path d="M135.8 338.0V564.0M211.7 338.0V564.0M287.5 338.0V564.0M363.3 338.0V564.0M439.2 338.0V564.0M60.0 488.7H515.0M60.0 413.3H515.0" stroke="#dfdfdf" stroke-width="1" fill="none"/>
<path d="M135.83 564.0V559.0M135.83 338.0V343.0M211.67 564.0V559.0M211.67 338.0V343.0M287.50 564.0V559.0M287.50 338.0V343.0M363.33 564.0V559.0M363.33 338.0V343.0M439.17 564.0V559.0M439.17 338.0V343.0M60.0 488.67H65.0M515.0 488.67H510.0M60.0 413.33H65.0M515.0 413.33H510.0" stroke="#262626" stroke-width="1" fill="none"/>
<rect x="60.00" y="338.00" width="455.00" height="226.00" fill="none" stroke="#808080" stroke-width="2"/>
<path clip-path="url(#clip10)" d="M60.0 564.0L363.0 564.0L364.1 560.2L364.5 556.5L365.2 361.4L366.1 361.4L366.4 387.0" stroke="#0000ff" stroke-width="3.00" stroke-dasharray="none" fill="none" stroke-linejoin="round" />
<text x="60.5" y="330.9" font-size="19.30">×10<tspan font-size="13.2" dy="-7.1">300</tspan></text>
<text x="60.0" y="587.3" text-anchor="middle" font-size="19.30">0</text>
<text x="135.8" y="587.3" text-anchor="middle" font-size="19.30">5</text>
<text x="211.7" y="587.3" text-anchor="middle" font-size="19.30">10</text>
<text x="287.5" y="587.3" text-anchor="middle" font-size="19.30">15</text>
<text x="363.3" y="587.3" text-anchor="middle" font-size="19.30">20</text>
<text x="439.2" y="587.3" text-anchor="middle" font-size="19.30">25</text>
<text x="515.0" y="587.3" text-anchor="middle" font-size="19.30">30</text>
<text x="53.5" y="569.8" text-anchor="end" font-size="19.30">0</text>
<text x="53.5" y="494.5" text-anchor="end" font-size="19.30">1</text>
<text x="53.5" y="419.1" text-anchor="end" font-size="19.30">2</text>
<text x="53.5" y="343.8" text-anchor="end" font-size="19.30">3</text>
<text x="287.5" y="610.2" text-anchor="middle" font-size="20.80">Time (s)</text>
<text transform="translate(33.1 451.0) rotate(-90)" text-anchor="middle" font-size="20.80">Rotor Speed (rad/s)</text>
<text x="287.5" y="330.8" text-anchor="middle" font-size="20.70" font-weight="bold" style="fill:#151515">Rotor Speed Dynamics</text>
<defs><clipPath id="clip11"><rect x="659.00" y="338.00" width="456.00" height="226.00"/></clipPath></defs>
<path d="M735.0 338.0V564.0M811.0 338.0V564.0M887.0 338.0V564.0M963.0 338.0V564.0M1039.0 338.0V564.0M659.0 518.8H1115.0M659.0 473.6H1115.0M659.0 428.4H1115.0M659.0 383.2H1115.0" stroke="#dfdfdf" stroke-width="1" fill="none"/>
<path d="M735.00 564.0V559.0M735.00 338.0V343.0M811.00 564.0V559.0M811.00 338.0V343.0M887.00 564.0V559.0M887.00 338.0V343.0M963.00 564.0V559.0M963.00 338.0V343.0M1039.00 564.0V559.0M1039.00 338.0V343.0M659.0 518.80H664.0M1115.0 518.80H1110.0M659.0 473.60H664.0M1115.0 473.60H1110.0M659.0 428.40H664.0M1115.0 428.40H1110.0M659.0 383.20H664.0M1115.0 383.20H1110.0" stroke="#262626" stroke-width="1" fill="none"/>
<rect x="659.00" y="338.00" width="456.00" height="226.00" fill="none" stroke="#808080" stroke-width="2"/>
<path clip-path="url(#clip11)" d="M659.0 564.0L961.2 564.0L962.4 557.7L964.2 557.7L964.7 363.8L965.3 363.8L965.7 536.9L965.7 564.0" stroke="#0000ff" stroke-width="3.00" stroke-dasharray="none" fill="none" stroke-linejoin="round" />
<text x="659.5" y="330.9" font-size="19.30">×10<tspan font-size="13.2" dy="-7.1">303</tspan></text>
<text x="659.0" y="587.3" text-anchor="middle" font-size="19.30">0</text>
<text x="735.0" y="587.3" text-anchor="middle" font-size="19.30">5</text>
<text x="811.0" y="587.3" text-anchor="middle" font-size="19.30">10</text>
<text x="887.0" y="587.3" text-anchor="middle" font-size="19.30">15</text>
<text x="963.0" y="587.3" text-anchor="middle" font-size="19.30">20</text>
<text x="1039.0" y="587.3" text-anchor="middle" font-size="19.30">25</text>
<text x="1115.0" y="587.3" text-anchor="middle" font-size="19.30">30</text>
<text x="652.5" y="569.8" text-anchor="end" font-size="19.30">0</text>
<text x="652.5" y="524.6" text-anchor="end" font-size="19.30">0.5</text>
<text x="652.5" y="479.4" text-anchor="end" font-size="19.30">1</text>
<text x="652.5" y="434.2" text-anchor="end" font-size="19.30">1.5</text>
<text x="652.5" y="389.0" text-anchor="end" font-size="19.30">2</text>
<text x="652.5" y="343.8" text-anchor="end" font-size="19.30">2.5</text>
<text x="887.0" y="610.2" text-anchor="middle" font-size="20.80">Time (s)</text>
<text transform="translate(616.1 451.0) rotate(-90)" text-anchor="middle" font-size="20.80">Generator Speed (rpm)</text>
<text x="887.0" y="330.8" text-anchor="middle" font-size="20.70" font-weight="bold" style="fill:#151515">Generator Speed Dynamics</text>
<defs><clipPath id="clip12"><rect x="1259.00" y="338.00" width="455.00" height="226.00"/></clipPath></defs>
<path d="M1334.8 338.0V564.0M1410.7 338.0V564.0M1486.5 338.0V564.0M1562.3 338.0V564.0M1638.2 338.0V564.0M1259.0 488.7H1714.0M1259.0 413.3H1714.0" stroke="#dfdfdf" stroke-width="1" fill="none"/>
<path d="M1334.83 564.0V559.0M1334.83 338.0V343.0M1410.67 564.0V559.0M1410.67 338.0V343.0M1486.50 564.0V559.0M1486.50 338.0V343.0M1562.33 564.0V559.0M1562.33 338.0V343.0M1638.17 564.0V559.0M1638.17 338.0V343.0M1259.0 488.67H1264.0M1714.0 488.67H1709.0M1259.0 413.33H1264.0M1714.0 413.33H1709.0" stroke="#262626" stroke-width="1" fill="none"/>
<rect x="1259.00" y="338.00" width="455.00" height="226.00" fill="none" stroke="#808080" stroke-width="2"/>
<path clip-path="url(#clip12)" d="M1259.0 558.0L1260.1 553.5L1261.3 549.0L1262.4 544.5L1263.6 540.1L1264.7 535.8L1265.8 531.7L1267.0 527.4L1268.1 523.0L1269.3 518.5L1270.4 514.4L1271.5 510.9L1272.7 508.4L1273.8 506.9L1275.0 506.1L1276.1 505.4L1277.2 504.3L1278.4 502.1L1279.5 498.9L1280.7 495.9L1281.8 493.0L1282.9 490.2L1284.1 487.3L1285.2 484.4L1286.4 481.6L1287.5 478.7L1288.6 475.7L1289.8 472.8L1290.9 469.9L1292.1 467.1L1293.2 464.4L1294.4 461.9L1295.5 459.5L1296.6 457.1L1297.8 454.7L1298.9 452.5L1300.1 450.3L1301.2 448.1L1302.3 446.0L1303.5 443.9L1304.6 441.9L1305.8 439.8L1306.9 437.8L1308.0 435.8L1309.2 433.8L1310.3 431.8L1311.5 429.9L1312.6 428.1L1313.7 426.3L1314.9 424.5L1316.0 422.9L1317.2 421.3L1318.3 419.8L1319.4 418.3L1320.6 417.0L1321.7 415.6L1322.9 414.4L1324.0 413.1L1325.1 411.9L1326.3 410.8L1327.4 409.6L1328.6 408.5L1329.7 407.5L1330.8 406.4L1332.0 405.4L1333.1 404.4L1334.3 403.5L1335.4 402.5L1336.5 401.6L1337.7 400.7L1338.8 399.8L1340.0 399.0L1341.1 398.1L1342.2 397.3L1343.4 396.5L1344.5 395.8L1345.7 395.0L1346.8 394.3L1347.9 393.5L1349.1 392.8L1350.2 392.0L1351.4 391.3L1352.5 390.5L1353.6 389.8L1354.8 389.1L1355.9 388.3L1357.1 387.6L1358.2 386.8L1359.4 386.1L1360.5 385.4L1361.6 384.7L1362.8 384.1L1363.9 383.4L1365.1 382.8L1366.2 382.2L1367.3 381.6L1368.5 381.0L1369.6 380.5L1370.8 380.0L1371.9 379.5L1373.0 379.0L1374.2 378.5L1375.3 378.1L1376.5 377.6L1377.6 377.2L1378.7 376.7L1379.9 376.3L1381.0 375.9L1382.2 375.5L1383.3 375.1L1384.4 374.7L1385.6 374.3L1386.7 373.9L1387.9 373.5L1389.0 373.2L1390.1 372.8L1391.3 372.4L1392.4 372.1L1393.6 371.7L1394.7 371.4L1395.8 371.1L1397.0 370.8L1398.1 370.5L1399.3 370.3L1400.4 370.0L1401.5 369.8L1402.7 369.6L1403.8 369.4L1405.0 369.2L1406.1 369.0L1407.2 368.8L1408.4 368.7L1409.5 368.5L1410.7 368.3L1411.8 368.2L1412.9 368.0L1414.1 367.8L1415.2 367.7L1416.4 367.5L1417.5 367.3L1418.6 367.2L1419.8 367.0L1420.9 366.8L1422.1 366.7L1423.2 366.5L1424.4 366.3L1425.5 366.2L1426.6 366.0L1427.8 365.9L1428.9 365.7L1430.1 365.6L1431.2 365.4L1432.3 365.3L1433.5 365.1L1434.6 364.9L1435.8 364.8L1436.9 364.6L1438.0 364.4L1439.2 364.2L1440.3 364.1L1441.5 363.9L1442.6 363.7L1443.7 363.6L1444.9 363.4L1446.0 363.3L1447.2 363.2L1448.3 363.1L1449.4 363.1L1450.6 363.0L1451.7 363.0L1452.9 363.0L1454.0 363.0L1455.1 363.1L1456.3 363.1L1457.4 363.2L1458.6 363.2L1459.7 363.3L1460.8 363.4L1462.0 363.4L1463.1 363.5L1464.3 363.6L1465.4 363.7L1466.5 363.8L1467.7 363.9L1468.8 364.1L1470.0 364.3L1471.1 364.4L1472.2 364.6L1473.4 364.8L1474.5 364.9L1475.7 365.1L1476.8 365.2L1477.9 365.2L1479.1 365.3L1480.2 365.3L1481.4 365.2L1482.5 365.1L1483.6 365.1L1484.8 364.9L1485.9 364.8L1487.1 364.7L1488.2 364.5L1489.4 364.4L1490.5 364.3L1491.6 364.1L1492.8 364.0L1493.9 363.9L1495.1 363.7L1496.2 363.7L1497.3 363.6L1498.5 363.5L1499.6 363.4L1500.8 363.4L1501.9 363.3L1503.0 363.2L1504.2 363.1L1505.3 363.1L1506.5 363.0L1507.6 363.0L1508.7 362.9L1509.9 362.8L1511.0 362.8L1512.2 362.8L1513.3 362.7L1514.4 362.7L1515.6 362.7L1516.7 362.7L1517.9 362.7L1519.0 362.7L1520.1 362.8L1521.3 362.8L1522.4 362.8L1523.6 362.9L1524.7 362.9L1525.8 363.0L1527.0 363.0L1528.1 363.1L1529.3 363.2L1530.4 363.3L1531.5 363.3L1532.7 363.4L1533.8 363.5L1535.0 363.6L1536.1 363.6L1537.2 363.7L1538.4 363.8L1539.5 363.9L1540.7 363.9L1541.8 364.0L1542.9 364.1L1544.1 364.1L1545.2 364.2L1546.4 364.3L1547.5 364.3L1548.6 364.4L1549.8 364.4L1550.9 364.5L1552.1 364.6L1553.2 364.6L1554.4 364.7L1555.5 364.7L1556.6 364.8L1557.8 364.8L1558.9 364.9L1560.1 365.0L1561.2 365.0L1562.3 365.1L1563.5 365.1L1564.6 365.2L1565.8 365.2L1566.9 365.3L1568.0 365.4L1569.2 365.4L1570.3 365.5L1571.5 365.5L1572.6 365.6L1573.7 365.7L1574.9 365.7L1576.0 365.8L1577.2 365.8L1578.3 365.9L1579.4 366.0L1580.6 366.0L1581.7 366.1L1582.9 366.2L1584.0 366.3L1585.1 366.3L1586.3 366.4L1587.4 366.5L1588.6 366.6L1589.7 366.6L1590.8 366.7L1592.0 366.8L1593.1 366.9L1594.3 367.0L1595.4 367.0L1596.5 367.1L1597.7 367.2L1598.8 367.3L1600.0 367.3L1601.1 367.4L1602.2 367.5L1603.4 367.5L1604.5 367.6L1605.7 367.6L1606.8 367.7L1607.9 367.7L1609.1 367.8L1610.2 367.8L1611.4 367.9L1612.5 367.9L1613.6 368.0L1614.8 368.0L1615.9 368.0L1617.1 368.1L1618.2 368.1L1619.4 368.1L1620.5 368.2L1621.6 368.2L1622.8 368.2L1623.9 368.2L1625.1 368.3L1626.2 368.3L1627.3 368.3L1628.5 368.4L1629.6 368.4L1630.8 368.4L1631.9 368.4L1633.0 368.5L1634.2 368.5L1635.3 368.5L1636.5 368.6L1637.6 368.6L1638.7 368.6L1639.9 368.7L1641.0 368.7L1642.2 368.7L1643.3 368.8L1644.4 368.8L1645.6 368.9L1646.7 368.9L1647.9 368.9L1649.0 369.0L1650.1 369.0L1651.3 369.1L1652.4 369.1L1653.6 369.2L1654.7 369.2L1655.8 369.3L1657.0 369.3L1658.1 369.4L1659.3 369.4L1660.4 369.5L1661.5 369.5L1662.7 369.6L1663.8 369.6L1665.0 369.7L1666.1 369.7L1667.2 369.8L1668.4 369.8L1669.5 369.9L1670.7 369.9L1671.8 370.0L1672.9 370.0L1674.1 370.1L1675.2 370.1L1676.4 370.2L1677.5 370.2L1678.6 370.3L1679.8 370.3L1680.9 370.4L1682.1 370.4L1683.2 370.5L1684.4 370.5L1685.5 370.6L1686.6 370.6L1687.8 370.6L1688.9 370.7L1690.1 370.7L1691.2 370.8L1692.3 370.8L1693.5 370.9L1694.6 370.9L1695.8 371.0L1696.9 371.0L1698.0 371.1L1699.2 371.1L1700.3 371.2L1701.5 371.2L1702.6 371.3L1703.7 371.3L1704.9 371.4L1706.0 371.4L1707.2 371.5L1708.3 371.5L1709.4 371.6L1710.6 371.6L1711.7 371.7L1712.9 371.7L1714.0 371.7" stroke="#0000ff" stroke-width="3.00" stroke-dasharray="none" fill="none" stroke-linejoin="round" />
<text x="1259.0" y="587.3" text-anchor="middle" font-size="19.30">0</text>
<text x="1334.8" y="587.3" text-anchor="middle" font-size="19.30">5</text>
<text x="1410.7" y="587.3" text-anchor="middle" font-size="19.30">10</text>
<text x="1486.5" y="587.3" text-anchor="middle" font-size="19.30">15</text>
<text x="1562.3" y="587.3" text-anchor="middle" font-size="19.30">20</text>
<text x="1638.2" y="587.3" text-anchor="middle" font-size="19.30">25</text>
<text x="1714.0" y="587.3" text-anchor="middle" font-size="19.30">30</text>
<text x="1252.5" y="569.8" text-anchor="end" font-size="19.30">0</text>
<text x="1252.5" y="494.5" text-anchor="end" font-size="19.30">5</text>
<text x="1252.5" y="419.1" text-anchor="end" font-size="19.30">10</text>
<text x="1252.5" y="343.8" text-anchor="end" font-size="19.30">15</text>
<text x="1486.5" y="610.2" text-anchor="middle" font-size="20.80">Time (s)</text>
<text transform="translate(1222.3 451.0) rotate(-90)" text-anchor="middle" font-size="20.80">Torque (kNm)</text>
<text x="1486.5" y="330.8" text-anchor="middle" font-size="20.70" font-weight="bold" style="fill:#151515">Generator Torque</text>
<defs><clipPath id="clip20"><rect x="60.00" y="651.00" width="455.00" height="226.00"/></clipPath></defs>
<path d="M135.8 651.0V877.0M211.7 651.0V877.0M287.5 651.0V877.0M363.3 651.0V877.0M439.2 651.0V877.0M60.0 831.8H515.0M60.0 786.6H515.0M60.0 741.4H515.0M60.0 696.2H515.0" stroke="#dfdfdf" stroke-width="1" fill="none"/>
<path d="M135.83 877.0V872.0M135.83 651.0V656.0M211.67 877.0V872.0M211.67 651.0V656.0M287.50 877.0V872.0M287.50 651.0V656.0M363.33 877.0V872.0M363.33 651.0V656.0M439.17 877.0V872.0M439.17 651.0V656.0M60.0 831.80H65.0M515.0 831.80H510.0M60.0 786.60H65.0M515.0 786.60H510.0M60.0 741.40H65.0M515.0 741.40H510.0M60.0 696.20H65.0M515.0 696.20H510.0" stroke="#262626" stroke-width="1" fill="none"/>
<rect x="60.00" y="651.00" width="455.00" height="226.00" fill="none" stroke="#808080" stroke-width="2"/>
<path clip-path="url(#clip20)" d="M60.0 877.0L61.1 809.2L62.3 818.2L63.0 777.6L63.9 795.6L64.7 669.1L75.2 669.1L76.2 723.3L77.1 669.1L77.7 669.1L78.4 703.0L79.0 669.1L80.5 664.6L81.2 669.1L88.1 669.1L88.8 664.6L89.6 669.1L191.9 669.1L193.2 691.7L195.0 669.1L198.0 727.8L199.2 664.6L201.1 669.1L204.1 669.1L205.6 718.8L207.1 669.1L213.9 669.1L215.3 682.6L216.2 664.6L218.5 678.1L220.8 664.6L223.0 705.2L224.1 669.1L246.6 669.1L248.1 664.6L249.6 669.1L254.1 669.1L255.2 696.2L257.2 682.6L258.7 691.7L260.2 664.6L261.7 673.6L262.9 732.4L264.8 745.9L266.0 818.2L267.5 755.0L272.0 755.0L273.2 849.9L274.9 852.1L276.9 822.8L277.9 831.8L279.9 723.3L280.4 664.6L281.4 669.1L365.6 669.1" stroke="#0000ff" stroke-width="3.00" stroke-dasharray="none" fill="none" stroke-linejoin="round" />
<path clip-path="url(#clip20)" d="M365.9 669.1L366.8 872.8L367.7 669.1L368.6 871.4L369.6 669.1L370.5 871.7L371.4 669.1L372.3 872.3L373.2 669.1L374.1 870.5L375.0 669.1L375.9 870.6L376.8 669.1L377.7 870.7L378.7 669.1L379.6 869.8L380.5 669.1L381.4 870.5L382.3 669.1L383.2 867.8L384.1 764.0L385.0 867.6L385.9 669.1L386.8 868.2L387.8 669.1L388.7 867.4L389.6 669.1L390.5 868.3L391.4 669.1L392.3 868.0L393.2 669.1L394.1 869.2L395.0 669.1L395.9 870.5L396.9 669.1L397.8 870.2L398.7 669.1L399.6 870.7L400.5 669.1L401.4 869.5L402.3 669.1L403.2 872.2L404.1 669.1L405.0 870.8L406.0 669.1L406.9 872.6L407.8 669.1L408.7 872.6L409.6 669.1L410.5 872.9L411.4 669.1L412.3 871.6L413.2 669.1L414.1 872.8L415.1 669.1L416.0 871.8L416.9 669.1L417.8 871.4L418.7 669.1L419.6 870.2L420.5 669.1L421.4 869.4L422.3 669.1L423.2 870.0L424.2 669.1L425.1 870.1L426.0 669.1L426.9 868.2L427.8 669.1L428.7 869.2L429.6 669.1L430.5 868.8L431.4 727.8L432.3 868.8L433.3 669.1L434.2 867.3L435.1 669.1L436.0 868.6L436.9 669.1L437.8 869.7L438.7 669.1L439.6 868.8L440.5 669.1L441.4 869.6L442.4 669.1L443.3 870.7L444.2 669.1L445.1 871.1L446.0 669.1L446.9 871.4L447.8 669.1L448.7 870.1L449.6 669.1L450.5 870.7L451.5 669.1L452.4 872.6L453.3 669.1L454.2 873.0L455.1 669.1L456.0 873.2L456.9 669.1L457.8 872.3L458.7 669.1L459.6 873.0L460.6 669.1L461.5 870.9L462.4 669.1L463.3 872.1L464.2 669.1L465.1 871.0L466.0 669.1L466.9 869.5L467.8 669.1L468.7 871.2L469.7 669.1L470.6 870.3L471.5 669.1L472.4 869.1L473.3 669.1L474.2 869.9L475.1 669.1L476.0 867.4L476.9 669.1L477.8 869.7L478.8 669.1L479.7 867.2L480.6 669.1L481.5 867.1L482.4 669.1L483.3 867.8L484.2 669.1L485.1 867.7L486.0 669.1L486.9 869.7L487.9 669.1L488.8 869.6L489.7 669.1L490.6 869.4L491.5 669.1L492.4 870.7L493.3 669.1L494.2 870.5L495.1 669.1L496.0 869.6L497.0 669.1L497.9 867.3L498.8 669.1L499.7 827.3L500.6 669.1L501.5 827.9L502.4 669.1L503.3 866.4L504.2 669.1L505.1 867.0L506.1 669.1L507.0 865.6L507.9 669.1L508.8 865.0L509.7 669.1L510.6 863.6L511.5 669.1L512.4 862.7L513.3 669.1L514.2 862.4" stroke="#0000ff" stroke-width="1.10" stroke-dasharray="none" fill="none" stroke-linejoin="round" />
<path clip-path="url(#clip20)" d="M60.0 660.0L515.0 660.0" stroke="#ff0000" stroke-width="2.00" stroke-dasharray="9 7" fill="none" stroke-linejoin="round" />
<rect x="344.3" y="664.6" width="153.7" height="45.3" fill="#fff" stroke="#808080" stroke-width="2"/>
<path d="M351.2 677.7H412.5" stroke="#0000ff" stroke-width="3.0" stroke-dasharray="none" fill="none"/>
<text x="417.7" y="683.9" font-size="16.80">Actual Cp</text>
<path d="M351.2 697.6H412.5" stroke="#ff0000" stroke-width="2.0" stroke-dasharray="9 7" fill="none"/>
<text x="417.7" y="703.8" font-size="16.80">Betz Limit</text>
<text x="60.0" y="900.3" text-anchor="middle" font-size="19.30">0</text>
<text x="135.8" y="900.3" text-anchor="middle" font-size="19.30">5</text>
<text x="211.7" y="900.3" text-anchor="middle" font-size="19.30">10</text>
<text x="287.5" y="900.3" text-anchor="middle" font-size="19.30">15</text>
<text x="363.3" y="900.3" text-anchor="middle" font-size="19.30">20</text>
<text x="439.2" y="900.3" text-anchor="middle" font-size="19.30">25</text>
<text x="515.0" y="900.3" text-anchor="middle" font-size="19.30">30</text>
<text x="53.5" y="882.8" text-anchor="end" font-size="19.30">0</text>
<text x="53.5" y="837.6" text-anchor="end" font-size="19.30">0.1</text>
<text x="53.5" y="792.4" text-anchor="end" font-size="19.30">0.2</text>
<text x="53.5" y="747.2" text-anchor="end" font-size="19.30">0.3</text>
<text x="53.5" y="702.0" text-anchor="end" font-size="19.30">0.4</text>
<text x="53.5" y="656.8" text-anchor="end" font-size="19.30">0.5</text>
<text x="287.5" y="923.2" text-anchor="middle" font-size="20.80">Time (s)</text>
<text transform="translate(17.1 764.0) rotate(-90)" text-anchor="middle" font-size="20.80">Power Coefficient (Cp)</text>
<text x="287.5" y="643.8" text-anchor="middle" font-size="20.70" font-weight="bold" style="fill:#151515">Power Coefficient Tracking</text>
<defs><clipPath id="clip21"><rect x="659.00" y="651.00" width="456.00" height="226.00"/></clipPath></defs>
<path d="M735.0 651.0V877.0M811.0 651.0V877.0M887.0 651.0V877.0M963.0 651.0V877.0M1039.0 651.0V877.0M659.0 831.8H1115.0M659.0 786.6H1115.0M659.0 741.4H1115.0M659.0 696.2H1115.0" stroke="#dfdfdf" stroke-width="1" fill="none"/>
<path d="M735.00 877.0V872.0M735.00 651.0V656.0M811.00 877.0V872.0M811.00 651.0V656.0M887.00 877.0V872.0M887.00 651.0V656.0M963.00 877.0V872.0M963.00 651.0V656.0M1039.00 877.0V872.0M1039.00 651.0V656.0M659.0 831.80H664.0M1115.0 831.80H1110.0M659.0 786.60H664.0M1115.0 786.60H1110.0M659.0 741.40H664.0M1115.0 741.40H1110.0M659.0 696.20H664.0M1115.0 696.20H1110.0" stroke="#262626" stroke-width="1" fill="none"/>
<rect x="659.00" y="651.00" width="456.00" height="226.00" fill="none" stroke="#808080" stroke-width="2"/>
<path clip-path="url(#clip21)" d="M659.0 877.0L961.5 877.0L963.0 874.7L963.9 865.7L964.5 764.0L965.4 669.1" stroke="#0000ff" stroke-width="3.00" stroke-dasharray="none" fill="none" stroke-linejoin="round" />
<path clip-path="url(#clip21)" d="M659.0 877.0L1115.0 877.0" stroke="#ff0000" stroke-width="3.00" stroke-dasharray="14 12" fill="none" stroke-linejoin="round" />
<rect x="930.7" y="664.8" width="167.4" height="45.3" fill="#fff" stroke="#808080" stroke-width="2"/>
<path d="M936.8 678.2H998.8" stroke="#0000ff" stroke-width="3.0" stroke-dasharray="none" fill="none"/>
<text x="1004.2" y="684.4" font-size="16.80">NN Control</text>
<path d="M936.8 697.6H998.8" stroke="#ff0000" stroke-width="3.0" stroke-dasharray="14 12" fill="none"/>
<text x="1004.2" y="703.8" font-size="16.80">PID Control</text>
<text x="659.5" y="643.9" font-size="19.30">×10<tspan font-size="13.2" dy="-7.1">299</tspan></text>
<text x="659.0" y="900.3" text-anchor="middle" font-size="19.30">0</text>
<text x="735.0" y="900.3" text-anchor="middle" font-size="19.30">5</text>
<text x="811.0" y="900.3" text-anchor="middle" font-size="19.30">10</text>
<text x="887.0" y="900.3" text-anchor="middle" font-size="19.30">15</text>
<text x="963.0" y="900.3" text-anchor="middle" font-size="19.30">20</text>
<text x="1039.0" y="900.3" text-anchor="middle" font-size="19.30">25</text>
<text x="1115.0" y="900.3" text-anchor="middle" font-size="19.30">30</text>
<text x="652.5" y="882.8" text-anchor="end" font-size="19.30">0</text>
<text x="652.5" y="837.6" text-anchor="end" font-size="19.30">1</text>
<text x="652.5" y="792.4" text-anchor="end" font-size="19.30">2</text>
<text x="652.5" y="747.2" text-anchor="end" font-size="19.30">3</text>
<text x="652.5" y="702.0" text-anchor="end" font-size="19.30">4</text>
<text x="652.5" y="656.8" text-anchor="end" font-size="19.30">5</text>
<text x="887.0" y="923.2" text-anchor="middle" font-size="20.80">Time (s)</text>
<text transform="translate(632.2 764.0) rotate(-90)" text-anchor="middle" font-size="20.80">Cumulative Energy (kWh)</text>
<text x="887.0" y="643.8" text-anchor="middle" font-size="20.70" font-weight="bold" style="fill:#151515">Energy Production</text>
<defs><clipPath id="clip22"><rect x="1259.00" y="651.00" width="455.00" height="226.00"/></clipPath></defs>
<path d="M1333.3 651.0V877.0M1486.5 651.0V877.0M1639.7 651.0V877.0M1259.0 831.8H1714.0M1259.0 786.6H1714.0M1259.0 741.4H1714.0M1259.0 696.2H1714.0" stroke="#dfdfdf" stroke-width="1" fill="none"/>
<path d="M1333.33 877.0V872.0M1333.33 651.0V656.0M1486.50 877.0V872.0M1486.50 651.0V656.0M1639.67 877.0V872.0M1639.67 651.0V656.0M1259.0 831.80H1264.0M1714.0 831.80H1709.0M1259.0 786.60H1264.0M1714.0 786.60H1709.0M1259.0 741.40H1264.0M1714.0 741.40H1709.0M1259.0 696.20H1264.0M1714.0 696.20H1709.0" stroke="#262626" stroke-width="1" fill="none"/>
<rect x="1259.00" y="651.00" width="455.00" height="226.00" fill="none" stroke="#808080" stroke-width="2"/>
<rect x="1337.4" y="800.2" width="35.3" height="76.8" fill="#da5405" stroke="#000" stroke-width="1"/>
<rect x="1490.6" y="678.1" width="35.3" height="198.9" fill="#da5405" stroke="#000" stroke-width="1"/>
<rect x="1600.3" y="843.6" width="35.3" height="33.4" fill="#0a70bd" stroke="#000" stroke-width="1"/>
<rect x="1643.8" y="843.6" width="35.3" height="33.4" fill="#da5405" stroke="#000" stroke-width="1"/>
<rect x="1529.8" y="664.8" width="167.1" height="44.8" fill="#fff" stroke="#808080" stroke-width="2"/>
<rect x="1536.0" y="670.3" width="62.6" height="14.5" fill="#0a70bd" stroke="#000" stroke-width="1"/>
<text x="1603.2" y="683.7" font-size="16.80">NN Control</text>
<rect x="1536.0" y="690.4" width="62.6" height="14.5" fill="#da5405" stroke="#000" stroke-width="1"/>
<text x="1603.2" y="703.8" font-size="16.80">PID Control</text>
<text x="1252.5" y="882.8" text-anchor="end" font-size="19.30">0</text>
<text x="1252.5" y="837.6" text-anchor="end" font-size="19.30">0.5</text>
<text x="1252.5" y="792.4" text-anchor="end" font-size="19.30">1</text>
<text x="1252.5" y="747.2" text-anchor="end" font-size="19.30">1.5</text>
<text x="1252.5" y="702.0" text-anchor="end" font-size="19.30">2</text>
<text x="1252.5" y="656.8" text-anchor="end" font-size="19.30">2.5</text>
<text x="1486.5" y="643.8" text-anchor="middle" font-size="20.70" font-weight="bold" style="fill:#151515">Performance Comparison</text>
<text transform="translate(1341.3 897.0) rotate(-30)" text-anchor="end" font-size="18.90">Avg Power (MW)</text>
<text transform="translate(1494.5 897.0) rotate(-30)" text-anchor="end" font-size="18.90">Peak Power (MW)</text>
<text transform="translate(1647.7 897.0) rotate(-30)" text-anchor="end" font-size="18.90">Avg Cp</text>
</svg></body></html>
